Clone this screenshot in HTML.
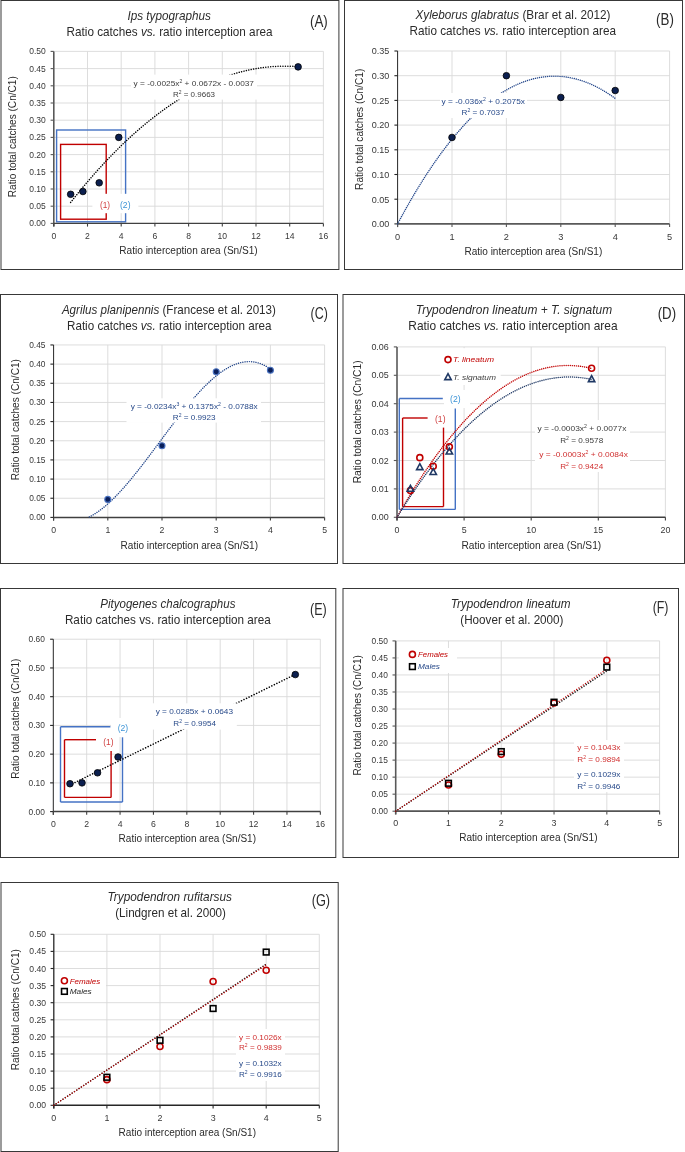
<!DOCTYPE html>
<html><head><meta charset="utf-8"><title>Ratio catches vs ratio interception area</title>
<style>
html,body{margin:0;padding:0;background:#fff;}
body{width:685px;height:1152px;overflow:hidden;}
svg{display:block;font-family:"Liberation Sans", sans-serif;will-change:transform;}
</style></head>
<body>
<svg width="685" height="1152" viewBox="0 0 685 1152">
<rect x="0" y="0" width="685" height="1152" fill="#fff"/>
<rect x="1.00" y="0.50" width="337.90" height="269.00" fill="none" stroke="#383838" stroke-width="1.0"/>
<text x="127.40" y="19.86" font-size="11.9" fill="#2b2b2b" textLength="83.50" lengthAdjust="spacingAndGlyphs"><tspan font-style="italic">Ips typographus</tspan></text>
<text x="66.60" y="35.66" font-size="11.9" fill="#2b2b2b" textLength="206.00" lengthAdjust="spacingAndGlyphs"><tspan>Ratio catches </tspan><tspan font-style="italic">vs.</tspan><tspan> ratio interception area</tspan></text>
<text x="310.00" y="26.73" font-size="15.6" fill="#2b2b2b" textLength="17.80" lengthAdjust="spacingAndGlyphs"><tspan>(A)</tspan></text>
<line x1="87.50" y1="223.40" x2="87.50" y2="51.40" stroke="#d9d9d9" stroke-width="0.9"/>
<line x1="121.20" y1="223.40" x2="121.20" y2="51.40" stroke="#d9d9d9" stroke-width="0.9"/>
<line x1="154.90" y1="223.40" x2="154.90" y2="51.40" stroke="#d9d9d9" stroke-width="0.9"/>
<line x1="188.60" y1="223.40" x2="188.60" y2="51.40" stroke="#d9d9d9" stroke-width="0.9"/>
<line x1="222.30" y1="223.40" x2="222.30" y2="51.40" stroke="#d9d9d9" stroke-width="0.9"/>
<line x1="256.00" y1="223.40" x2="256.00" y2="51.40" stroke="#d9d9d9" stroke-width="0.9"/>
<line x1="289.70" y1="223.40" x2="289.70" y2="51.40" stroke="#d9d9d9" stroke-width="0.9"/>
<line x1="323.40" y1="223.40" x2="323.40" y2="51.40" stroke="#d9d9d9" stroke-width="0.9"/>
<line x1="53.80" y1="206.20" x2="323.40" y2="206.20" stroke="#d9d9d9" stroke-width="0.9"/>
<line x1="53.80" y1="189.00" x2="323.40" y2="189.00" stroke="#d9d9d9" stroke-width="0.9"/>
<line x1="53.80" y1="171.80" x2="323.40" y2="171.80" stroke="#d9d9d9" stroke-width="0.9"/>
<line x1="53.80" y1="154.60" x2="323.40" y2="154.60" stroke="#d9d9d9" stroke-width="0.9"/>
<line x1="53.80" y1="137.40" x2="323.40" y2="137.40" stroke="#d9d9d9" stroke-width="0.9"/>
<line x1="53.80" y1="120.20" x2="323.40" y2="120.20" stroke="#d9d9d9" stroke-width="0.9"/>
<line x1="53.80" y1="103.00" x2="323.40" y2="103.00" stroke="#d9d9d9" stroke-width="0.9"/>
<line x1="53.80" y1="85.80" x2="323.40" y2="85.80" stroke="#d9d9d9" stroke-width="0.9"/>
<line x1="53.80" y1="68.60" x2="323.40" y2="68.60" stroke="#d9d9d9" stroke-width="0.9"/>
<line x1="53.80" y1="51.40" x2="323.40" y2="51.40" stroke="#d9d9d9" stroke-width="0.9"/>
<rect x="56.60" y="130.00" width="69.00" height="91.80" fill="none" stroke="#4472c4" stroke-width="1.4"/>
<rect x="60.60" y="144.40" width="45.60" height="74.80" fill="none" stroke="#c00000" stroke-width="1.4"/>
<rect x="92.40" y="193.80" width="46.00" height="19.40" fill="#fff" stroke="none" stroke-width="1"/>
<text x="99.90" y="207.75" font-size="8.8" fill="#d04040" textLength="10.10" lengthAdjust="spacingAndGlyphs"><tspan>(1)</tspan></text>
<text x="120.00" y="207.75" font-size="8.8" fill="#3d94d6" textLength="10.50" lengthAdjust="spacingAndGlyphs"><tspan>(2)</tspan></text>
<line x1="53.80" y1="226.60" x2="53.80" y2="51.40" stroke="#595959" stroke-width="1.6"/>
<line x1="50.60" y1="223.40" x2="53.80" y2="223.40" stroke="#595959" stroke-width="1.1"/>
<line x1="50.60" y1="206.20" x2="53.80" y2="206.20" stroke="#595959" stroke-width="1.1"/>
<line x1="50.60" y1="189.00" x2="53.80" y2="189.00" stroke="#595959" stroke-width="1.1"/>
<line x1="50.60" y1="171.80" x2="53.80" y2="171.80" stroke="#595959" stroke-width="1.1"/>
<line x1="50.60" y1="154.60" x2="53.80" y2="154.60" stroke="#595959" stroke-width="1.1"/>
<line x1="50.60" y1="137.40" x2="53.80" y2="137.40" stroke="#595959" stroke-width="1.1"/>
<line x1="50.60" y1="120.20" x2="53.80" y2="120.20" stroke="#595959" stroke-width="1.1"/>
<line x1="50.60" y1="103.00" x2="53.80" y2="103.00" stroke="#595959" stroke-width="1.1"/>
<line x1="50.60" y1="85.80" x2="53.80" y2="85.80" stroke="#595959" stroke-width="1.1"/>
<line x1="50.60" y1="68.60" x2="53.80" y2="68.60" stroke="#595959" stroke-width="1.1"/>
<line x1="50.60" y1="51.40" x2="53.80" y2="51.40" stroke="#595959" stroke-width="1.1"/>
<line x1="53.80" y1="223.40" x2="323.40" y2="223.40" stroke="#404040" stroke-width="1.4"/>
<line x1="53.80" y1="223.40" x2="53.80" y2="226.60" stroke="#404040" stroke-width="1.1"/>
<line x1="87.50" y1="223.40" x2="87.50" y2="226.60" stroke="#404040" stroke-width="1.1"/>
<line x1="121.20" y1="223.40" x2="121.20" y2="226.60" stroke="#404040" stroke-width="1.1"/>
<line x1="154.90" y1="223.40" x2="154.90" y2="226.60" stroke="#404040" stroke-width="1.1"/>
<line x1="188.60" y1="223.40" x2="188.60" y2="226.60" stroke="#404040" stroke-width="1.1"/>
<line x1="222.30" y1="223.40" x2="222.30" y2="226.60" stroke="#404040" stroke-width="1.1"/>
<line x1="256.00" y1="223.40" x2="256.00" y2="226.60" stroke="#404040" stroke-width="1.1"/>
<line x1="289.70" y1="223.40" x2="289.70" y2="226.60" stroke="#404040" stroke-width="1.1"/>
<line x1="323.40" y1="223.40" x2="323.40" y2="226.60" stroke="#404040" stroke-width="1.1"/>
<text x="45.80" y="226.44" font-size="8.5" fill="#383838" text-anchor="end">0.00</text>
<text x="45.80" y="209.24" font-size="8.5" fill="#383838" text-anchor="end">0.05</text>
<text x="45.80" y="192.04" font-size="8.5" fill="#383838" text-anchor="end">0.10</text>
<text x="45.80" y="174.84" font-size="8.5" fill="#383838" text-anchor="end">0.15</text>
<text x="45.80" y="157.64" font-size="8.5" fill="#383838" text-anchor="end">0.20</text>
<text x="45.80" y="140.44" font-size="8.5" fill="#383838" text-anchor="end">0.25</text>
<text x="45.80" y="123.24" font-size="8.5" fill="#383838" text-anchor="end">0.30</text>
<text x="45.80" y="106.04" font-size="8.5" fill="#383838" text-anchor="end">0.35</text>
<text x="45.80" y="88.84" font-size="8.5" fill="#383838" text-anchor="end">0.40</text>
<text x="45.80" y="71.64" font-size="8.5" fill="#383838" text-anchor="end">0.45</text>
<text x="45.80" y="54.44" font-size="8.5" fill="#383838" text-anchor="end">0.50</text>
<text x="53.80" y="239.38" font-size="8.6" fill="#383838" text-anchor="middle">0</text>
<text x="87.50" y="239.38" font-size="8.6" fill="#383838" text-anchor="middle">2</text>
<text x="121.20" y="239.38" font-size="8.6" fill="#383838" text-anchor="middle">4</text>
<text x="154.90" y="239.38" font-size="8.6" fill="#383838" text-anchor="middle">6</text>
<text x="188.60" y="239.38" font-size="8.6" fill="#383838" text-anchor="middle">8</text>
<text x="222.30" y="239.38" font-size="8.6" fill="#383838" text-anchor="middle">10</text>
<text x="256.00" y="239.38" font-size="8.6" fill="#383838" text-anchor="middle">12</text>
<text x="289.70" y="239.38" font-size="8.6" fill="#383838" text-anchor="middle">14</text>
<text x="323.40" y="239.38" font-size="8.6" fill="#383838" text-anchor="middle">16</text>
<text x="119.30" y="254.48" font-size="10.0" fill="#2b2b2b" textLength="138.40" lengthAdjust="spacingAndGlyphs"><tspan>Ratio interception area (Sn/S1)</tspan></text>
<text transform="translate(16.40,197.20) rotate(-90)" x="0" y="0" font-size="10.0" fill="#2b2b2b" textLength="121.00" lengthAdjust="spacingAndGlyphs">Ratio total catches (Cn/C1)</text>
<polyline points="70.65,202.40 71.79,200.96 72.92,199.52 74.06,198.09 75.20,196.67 76.34,195.26 77.47,193.86 78.61,192.46 79.75,191.07 80.89,189.69 82.02,188.32 83.16,186.95 84.30,185.59 85.44,184.24 86.57,182.90 87.71,181.56 88.85,180.24 89.99,178.92 91.12,177.60 92.26,176.30 93.40,175.00 94.53,173.71 95.67,172.43 96.81,171.16 97.95,169.89 99.08,168.63 100.22,167.38 101.36,166.14 102.50,164.90 103.63,163.68 104.77,162.46 105.91,161.24 107.05,160.04 108.18,158.84 109.32,157.65 110.46,156.47 111.60,155.30 112.73,154.13 113.87,152.97 115.01,151.82 116.15,150.68 117.28,149.54 118.42,148.42 119.56,147.29 120.69,146.18 121.83,145.08 122.97,143.98 124.11,142.89 125.24,141.81 126.38,140.73 127.52,139.67 128.66,138.61 129.79,137.56 130.93,136.52 132.07,135.48 133.21,134.45 134.34,133.43 135.48,132.42 136.62,131.41 137.76,130.42 138.89,129.43 140.03,128.44 141.17,127.47 142.30,126.50 143.44,125.54 144.58,124.59 145.72,123.65 146.85,122.71 147.99,121.79 149.13,120.87 150.27,119.95 151.40,119.05 152.54,118.15 153.68,117.26 154.82,116.38 155.95,115.50 157.09,114.64 158.23,113.78 159.37,112.93 160.50,112.08 161.64,111.25 162.78,110.42 163.91,109.60 165.05,108.78 166.19,107.98 167.33,107.18 168.46,106.39 169.60,105.61 170.74,104.83 171.88,104.07 173.01,103.31 174.15,102.56 175.29,101.81 176.43,101.08 177.56,100.35 178.70,99.63 179.84,98.91 180.98,98.21 182.11,97.51 183.25,96.82 184.39,96.14 185.52,95.46 186.66,94.80 187.80,94.14 188.94,93.49 190.07,92.84 191.21,92.20 192.35,91.58 193.49,90.96 194.62,90.34 195.76,89.74 196.90,89.14 198.04,88.55 199.17,87.97 200.31,87.39 201.45,86.82 202.59,86.26 203.72,85.71 204.86,85.17 206.00,84.63 207.13,84.10 208.27,83.58 209.41,83.07 210.55,82.56 211.68,82.06 212.82,81.57 213.96,81.09 215.10,80.62 216.23,80.15 217.37,79.69 218.51,79.24 219.65,78.79 220.78,78.36 221.92,77.93 223.06,77.50 224.20,77.09 225.33,76.69 226.47,76.29 227.61,75.90 228.75,75.51 229.88,75.14 231.02,74.77 232.16,74.41 233.29,74.06 234.43,73.71 235.57,73.38 236.71,73.05 237.84,72.73 238.98,72.41 240.12,72.11 241.26,71.81 242.39,71.52 243.53,71.23 244.67,70.96 245.81,70.69 246.94,70.43 248.08,70.18 249.22,69.93 250.36,69.70 251.49,69.47 252.63,69.25 253.77,69.03 254.90,68.83 256.04,68.63 257.18,68.44 258.32,68.25 259.45,68.08 260.59,67.91 261.73,67.75 262.87,67.60 264.00,67.45 265.14,67.31 266.28,67.19 267.42,67.06 268.55,66.95 269.69,66.84 270.83,66.74 271.97,66.65 273.10,66.57 274.24,66.49 275.38,66.43 276.51,66.37 277.65,66.31 278.79,66.27 279.93,66.23 281.06,66.20 282.20,66.18 283.34,66.16 284.48,66.16 285.61,66.16 286.75,66.17 287.89,66.18 289.03,66.21 290.16,66.24 291.30,66.28 292.44,66.33 293.58,66.38 294.71,66.44 295.85,66.51 296.99,66.59 298.12,66.68" fill="none" stroke="#000" stroke-width="1.5" stroke-dasharray="0.01 2.45" stroke-linecap="round"/>
<rect x="131.00" y="74.60" width="126.00" height="25.00" fill="#fff" stroke="none" stroke-width="1"/>
<text x="133.60" y="86.19" font-size="7.8" fill="#404040" textLength="120.40" lengthAdjust="spacingAndGlyphs"><tspan>y = -0.0025x</tspan><tspan font-size="4.84" dy="-2.96">2</tspan><tspan dy="2.96"> + 0.0672x - 0.0037</tspan></text>
<text x="173.00" y="96.79" font-size="7.8" fill="#404040" textLength="42.00" lengthAdjust="spacingAndGlyphs"><tspan>R</tspan><tspan font-size="4.84" dy="-2.96">2</tspan><tspan dy="2.96"> = 0.9663</tspan></text>
<circle cx="70.65" cy="194.30" r="3.3" fill="#0b1f4f" stroke="#000" stroke-width="0.8"/>
<circle cx="82.90" cy="191.51" r="3.3" fill="#0b1f4f" stroke="#000" stroke-width="0.8"/>
<circle cx="99.19" cy="182.81" r="3.3" fill="#0b1f4f" stroke="#000" stroke-width="0.8"/>
<circle cx="118.79" cy="137.40" r="3.3" fill="#0b1f4f" stroke="#000" stroke-width="0.8"/>
<circle cx="298.12" cy="66.88" r="3.3" fill="#0b1f4f" stroke="#000" stroke-width="0.8"/>
<rect x="344.50" y="0.50" width="338.00" height="269.00" fill="none" stroke="#383838" stroke-width="1.0"/>
<text x="415.50" y="19.46" font-size="11.9" fill="#2b2b2b" textLength="195.00" lengthAdjust="spacingAndGlyphs"><tspan font-style="italic">Xyleborus glabratus</tspan><tspan> (Brar et al. 2012)</tspan></text>
<text x="409.50" y="35.06" font-size="11.9" fill="#2b2b2b" textLength="206.50" lengthAdjust="spacingAndGlyphs"><tspan>Ratio catches </tspan><tspan font-style="italic">vs.</tspan><tspan> ratio interception area</tspan></text>
<text x="656.10" y="25.08" font-size="15.6" fill="#2b2b2b" textLength="17.80" lengthAdjust="spacingAndGlyphs"><tspan>(B)</tspan></text>
<line x1="452.00" y1="223.90" x2="452.00" y2="51.00" stroke="#d9d9d9" stroke-width="0.9"/>
<line x1="506.40" y1="223.90" x2="506.40" y2="51.00" stroke="#d9d9d9" stroke-width="0.9"/>
<line x1="560.80" y1="223.90" x2="560.80" y2="51.00" stroke="#d9d9d9" stroke-width="0.9"/>
<line x1="615.20" y1="223.90" x2="615.20" y2="51.00" stroke="#d9d9d9" stroke-width="0.9"/>
<line x1="669.60" y1="223.90" x2="669.60" y2="51.00" stroke="#d9d9d9" stroke-width="0.9"/>
<line x1="397.60" y1="199.20" x2="669.60" y2="199.20" stroke="#d9d9d9" stroke-width="0.9"/>
<line x1="397.60" y1="174.50" x2="669.60" y2="174.50" stroke="#d9d9d9" stroke-width="0.9"/>
<line x1="397.60" y1="149.80" x2="669.60" y2="149.80" stroke="#d9d9d9" stroke-width="0.9"/>
<line x1="397.60" y1="125.10" x2="669.60" y2="125.10" stroke="#d9d9d9" stroke-width="0.9"/>
<line x1="397.60" y1="100.40" x2="669.60" y2="100.40" stroke="#d9d9d9" stroke-width="0.9"/>
<line x1="397.60" y1="75.70" x2="669.60" y2="75.70" stroke="#d9d9d9" stroke-width="0.9"/>
<line x1="397.60" y1="51.00" x2="669.60" y2="51.00" stroke="#d9d9d9" stroke-width="0.9"/>
<line x1="397.60" y1="227.10" x2="397.60" y2="51.00" stroke="#262626" stroke-width="1.0"/>
<line x1="394.40" y1="223.90" x2="397.60" y2="223.90" stroke="#262626" stroke-width="1.1"/>
<line x1="394.40" y1="199.20" x2="397.60" y2="199.20" stroke="#262626" stroke-width="1.1"/>
<line x1="394.40" y1="174.50" x2="397.60" y2="174.50" stroke="#262626" stroke-width="1.1"/>
<line x1="394.40" y1="149.80" x2="397.60" y2="149.80" stroke="#262626" stroke-width="1.1"/>
<line x1="394.40" y1="125.10" x2="397.60" y2="125.10" stroke="#262626" stroke-width="1.1"/>
<line x1="394.40" y1="100.40" x2="397.60" y2="100.40" stroke="#262626" stroke-width="1.1"/>
<line x1="394.40" y1="75.70" x2="397.60" y2="75.70" stroke="#262626" stroke-width="1.1"/>
<line x1="394.40" y1="51.00" x2="397.60" y2="51.00" stroke="#262626" stroke-width="1.1"/>
<line x1="397.60" y1="223.90" x2="669.60" y2="223.90" stroke="#595959" stroke-width="1.8"/>
<line x1="397.60" y1="223.90" x2="397.60" y2="227.10" stroke="#595959" stroke-width="1.1"/>
<line x1="452.00" y1="223.90" x2="452.00" y2="227.10" stroke="#595959" stroke-width="1.1"/>
<line x1="506.40" y1="223.90" x2="506.40" y2="227.10" stroke="#595959" stroke-width="1.1"/>
<line x1="560.80" y1="223.90" x2="560.80" y2="227.10" stroke="#595959" stroke-width="1.1"/>
<line x1="615.20" y1="223.90" x2="615.20" y2="227.10" stroke="#595959" stroke-width="1.1"/>
<line x1="669.60" y1="223.90" x2="669.60" y2="227.10" stroke="#595959" stroke-width="1.1"/>
<text x="371.70" y="227.25" font-size="9.35" fill="#383838" textLength="17.6" lengthAdjust="spacingAndGlyphs">0.00</text>
<text x="371.70" y="202.55" font-size="9.35" fill="#383838" textLength="17.6" lengthAdjust="spacingAndGlyphs">0.05</text>
<text x="371.70" y="177.85" font-size="9.35" fill="#383838" textLength="17.6" lengthAdjust="spacingAndGlyphs">0.10</text>
<text x="371.70" y="153.15" font-size="9.35" fill="#383838" textLength="17.6" lengthAdjust="spacingAndGlyphs">0.15</text>
<text x="371.70" y="128.45" font-size="9.35" fill="#383838" textLength="17.6" lengthAdjust="spacingAndGlyphs">0.20</text>
<text x="371.70" y="103.75" font-size="9.35" fill="#383838" textLength="17.6" lengthAdjust="spacingAndGlyphs">0.25</text>
<text x="371.70" y="79.05" font-size="9.35" fill="#383838" textLength="17.6" lengthAdjust="spacingAndGlyphs">0.30</text>
<text x="371.70" y="54.35" font-size="9.35" fill="#383838" textLength="17.6" lengthAdjust="spacingAndGlyphs">0.35</text>
<text x="397.60" y="239.89" font-size="9.2" fill="#383838" text-anchor="middle">0</text>
<text x="452.00" y="239.89" font-size="9.2" fill="#383838" text-anchor="middle">1</text>
<text x="506.40" y="239.89" font-size="9.2" fill="#383838" text-anchor="middle">2</text>
<text x="560.80" y="239.89" font-size="9.2" fill="#383838" text-anchor="middle">3</text>
<text x="615.20" y="239.89" font-size="9.2" fill="#383838" text-anchor="middle">4</text>
<text x="669.60" y="239.89" font-size="9.2" fill="#383838" text-anchor="middle">5</text>
<text x="464.40" y="255.18" font-size="10.0" fill="#2b2b2b" textLength="137.90" lengthAdjust="spacingAndGlyphs"><tspan>Ratio interception area (Sn/S1)</tspan></text>
<text transform="translate(362.90,189.90) rotate(-90)" x="0" y="0" font-size="10.0" fill="#2b2b2b" textLength="121.20" lengthAdjust="spacingAndGlyphs">Ratio total catches (Cn/C1)</text>
<polyline points="397.60,223.90 398.69,221.86 399.78,219.83 400.86,217.81 401.95,215.81 403.04,213.83 404.13,211.86 405.22,209.90 406.30,207.95 407.39,206.03 408.48,204.11 409.57,202.21 410.66,200.32 411.74,198.45 412.83,196.59 413.92,194.75 415.01,192.92 416.10,191.10 417.18,189.30 418.27,187.52 419.36,185.74 420.45,183.98 421.54,182.24 422.62,180.51 423.71,178.80 424.80,177.09 425.89,175.41 426.98,173.73 428.06,172.07 429.15,170.43 430.24,168.80 431.33,167.18 432.42,165.58 433.50,163.99 434.59,162.42 435.68,160.86 436.77,159.32 437.86,157.78 438.94,156.27 440.03,154.77 441.12,153.28 442.21,151.80 443.30,150.34 444.38,148.90 445.47,147.47 446.56,146.05 447.65,144.65 448.74,143.26 449.82,141.88 450.91,140.52 452.00,139.18 453.09,137.85 454.18,136.53 455.26,135.23 456.35,133.94 457.44,132.66 458.53,131.40 459.62,130.16 460.70,128.92 461.79,127.71 462.88,126.50 463.97,125.31 465.06,124.14 466.14,122.98 467.23,121.83 468.32,120.70 469.41,119.58 470.50,118.48 471.58,117.39 472.67,116.31 473.76,115.25 474.85,114.20 475.94,113.17 477.02,112.15 478.11,111.15 479.20,110.16 480.29,109.18 481.38,108.22 482.46,107.27 483.55,106.34 484.64,105.42 485.73,104.51 486.82,103.62 487.90,102.75 488.99,101.89 490.08,101.04 491.17,100.20 492.26,99.38 493.34,98.58 494.43,97.79 495.52,97.01 496.61,96.25 497.70,95.50 498.78,94.77 499.87,94.05 500.96,93.34 502.05,92.65 503.14,91.97 504.22,91.31 505.31,90.66 506.40,90.03 507.49,89.41 508.58,88.80 509.66,88.21 510.75,87.63 511.84,87.07 512.93,86.52 514.02,85.98 515.10,85.46 516.19,84.96 517.28,84.46 518.37,83.99 519.46,83.52 520.54,83.07 521.63,82.64 522.72,82.22 523.81,81.81 524.90,81.42 525.98,81.04 527.07,80.67 528.16,80.32 529.25,79.99 530.34,79.67 531.42,79.36 532.51,79.07 533.60,78.79 534.69,78.52 535.78,78.27 536.86,78.04 537.95,77.81 539.04,77.61 540.13,77.41 541.22,77.23 542.30,77.07 543.39,76.92 544.48,76.78 545.57,76.66 546.66,76.55 547.74,76.46 548.83,76.38 549.92,76.31 551.01,76.26 552.10,76.22 553.18,76.20 554.27,76.19 555.36,76.20 556.45,76.22 557.54,76.25 558.62,76.30 559.71,76.36 560.80,76.44 561.89,76.53 562.98,76.64 564.06,76.76 565.15,76.89 566.24,77.04 567.33,77.20 568.42,77.38 569.50,77.57 570.59,77.77 571.68,77.99 572.77,78.23 573.86,78.47 574.94,78.73 576.03,79.01 577.12,79.30 578.21,79.61 579.30,79.92 580.38,80.26 581.47,80.60 582.56,80.97 583.65,81.34 584.74,81.73 585.82,82.14 586.91,82.55 588.00,82.99 589.09,83.43 590.18,83.89 591.26,84.37 592.35,84.86 593.44,85.36 594.53,85.88 595.62,86.41 596.70,86.96 597.79,87.52 598.88,88.09 599.97,88.68 601.06,89.29 602.14,89.90 603.23,90.54 604.32,91.18 605.41,91.84 606.50,92.52 607.58,93.21 608.67,93.91 609.76,94.63 610.85,95.36 611.94,96.10 613.02,96.86 614.11,97.64 615.20,98.42" fill="none" stroke="#23468a" stroke-width="1.45" stroke-dasharray="0.01 2.05" stroke-linecap="round"/>
<rect x="440.00" y="93.00" width="87.00" height="25.00" fill="#fff" stroke="none" stroke-width="1"/>
<text x="441.60" y="103.79" font-size="7.8" fill="#284a8a" textLength="83.40" lengthAdjust="spacingAndGlyphs"><tspan>y = -0.036x</tspan><tspan font-size="4.84" dy="-2.96">2</tspan><tspan dy="2.96"> + 0.2075x</tspan></text>
<text x="461.60" y="114.79" font-size="7.8" fill="#284a8a" textLength="43.00" lengthAdjust="spacingAndGlyphs"><tspan>R</tspan><tspan font-size="4.84" dy="-2.96">2</tspan><tspan dy="2.96"> = 0.7037</tspan></text>
<circle cx="452.00" cy="137.45" r="3.3" fill="#0b1f4f" stroke="#000" stroke-width="0.8"/>
<circle cx="506.40" cy="75.70" r="3.3" fill="#0b1f4f" stroke="#000" stroke-width="0.8"/>
<circle cx="560.80" cy="97.44" r="3.3" fill="#0b1f4f" stroke="#000" stroke-width="0.8"/>
<circle cx="615.20" cy="90.52" r="3.3" fill="#0b1f4f" stroke="#000" stroke-width="0.8"/>
<rect x="0.50" y="294.50" width="337.00" height="269.00" fill="none" stroke="#383838" stroke-width="1.0"/>
<text x="61.90" y="313.76" font-size="11.9" fill="#2b2b2b" textLength="214.00" lengthAdjust="spacingAndGlyphs"><tspan font-style="italic">Agrilus planipennis</tspan><tspan> (Francese et al. 2013)</tspan></text>
<text x="67.00" y="330.46" font-size="11.9" fill="#2b2b2b" textLength="204.60" lengthAdjust="spacingAndGlyphs"><tspan>Ratio catches </tspan><tspan font-style="italic">vs.</tspan><tspan> ratio interception area</tspan></text>
<text x="310.50" y="319.48" font-size="15.6" fill="#2b2b2b" textLength="17.30" lengthAdjust="spacingAndGlyphs"><tspan>(C)</tspan></text>
<line x1="107.80" y1="517.40" x2="107.80" y2="344.96" stroke="#d9d9d9" stroke-width="0.9"/>
<line x1="162.00" y1="517.40" x2="162.00" y2="344.96" stroke="#d9d9d9" stroke-width="0.9"/>
<line x1="216.20" y1="517.40" x2="216.20" y2="344.96" stroke="#d9d9d9" stroke-width="0.9"/>
<line x1="270.40" y1="517.40" x2="270.40" y2="344.96" stroke="#d9d9d9" stroke-width="0.9"/>
<line x1="324.60" y1="517.40" x2="324.60" y2="344.96" stroke="#d9d9d9" stroke-width="0.9"/>
<line x1="53.60" y1="498.24" x2="324.60" y2="498.24" stroke="#d9d9d9" stroke-width="0.9"/>
<line x1="53.60" y1="479.08" x2="324.60" y2="479.08" stroke="#d9d9d9" stroke-width="0.9"/>
<line x1="53.60" y1="459.92" x2="324.60" y2="459.92" stroke="#d9d9d9" stroke-width="0.9"/>
<line x1="53.60" y1="440.76" x2="324.60" y2="440.76" stroke="#d9d9d9" stroke-width="0.9"/>
<line x1="53.60" y1="421.60" x2="324.60" y2="421.60" stroke="#d9d9d9" stroke-width="0.9"/>
<line x1="53.60" y1="402.44" x2="324.60" y2="402.44" stroke="#d9d9d9" stroke-width="0.9"/>
<line x1="53.60" y1="383.28" x2="324.60" y2="383.28" stroke="#d9d9d9" stroke-width="0.9"/>
<line x1="53.60" y1="364.12" x2="324.60" y2="364.12" stroke="#d9d9d9" stroke-width="0.9"/>
<line x1="53.60" y1="344.96" x2="324.60" y2="344.96" stroke="#d9d9d9" stroke-width="0.9"/>
<line x1="53.60" y1="520.60" x2="53.60" y2="344.96" stroke="#262626" stroke-width="1.0"/>
<line x1="50.40" y1="517.40" x2="53.60" y2="517.40" stroke="#262626" stroke-width="1.1"/>
<line x1="50.40" y1="498.24" x2="53.60" y2="498.24" stroke="#262626" stroke-width="1.1"/>
<line x1="50.40" y1="479.08" x2="53.60" y2="479.08" stroke="#262626" stroke-width="1.1"/>
<line x1="50.40" y1="459.92" x2="53.60" y2="459.92" stroke="#262626" stroke-width="1.1"/>
<line x1="50.40" y1="440.76" x2="53.60" y2="440.76" stroke="#262626" stroke-width="1.1"/>
<line x1="50.40" y1="421.60" x2="53.60" y2="421.60" stroke="#262626" stroke-width="1.1"/>
<line x1="50.40" y1="402.44" x2="53.60" y2="402.44" stroke="#262626" stroke-width="1.1"/>
<line x1="50.40" y1="383.28" x2="53.60" y2="383.28" stroke="#262626" stroke-width="1.1"/>
<line x1="50.40" y1="364.12" x2="53.60" y2="364.12" stroke="#262626" stroke-width="1.1"/>
<line x1="50.40" y1="344.96" x2="53.60" y2="344.96" stroke="#262626" stroke-width="1.1"/>
<line x1="53.60" y1="517.40" x2="324.60" y2="517.40" stroke="#404040" stroke-width="1.5"/>
<line x1="53.60" y1="517.40" x2="53.60" y2="520.60" stroke="#404040" stroke-width="1.1"/>
<line x1="107.80" y1="517.40" x2="107.80" y2="520.60" stroke="#404040" stroke-width="1.1"/>
<line x1="162.00" y1="517.40" x2="162.00" y2="520.60" stroke="#404040" stroke-width="1.1"/>
<line x1="216.20" y1="517.40" x2="216.20" y2="520.60" stroke="#404040" stroke-width="1.1"/>
<line x1="270.40" y1="517.40" x2="270.40" y2="520.60" stroke="#404040" stroke-width="1.1"/>
<line x1="324.60" y1="517.40" x2="324.60" y2="520.60" stroke="#404040" stroke-width="1.1"/>
<text x="45.50" y="520.41" font-size="8.4" fill="#383838" text-anchor="end">0.00</text>
<text x="45.50" y="501.25" font-size="8.4" fill="#383838" text-anchor="end">0.05</text>
<text x="45.50" y="482.09" font-size="8.4" fill="#383838" text-anchor="end">0.10</text>
<text x="45.50" y="462.93" font-size="8.4" fill="#383838" text-anchor="end">0.15</text>
<text x="45.50" y="443.77" font-size="8.4" fill="#383838" text-anchor="end">0.20</text>
<text x="45.50" y="424.61" font-size="8.4" fill="#383838" text-anchor="end">0.25</text>
<text x="45.50" y="405.45" font-size="8.4" fill="#383838" text-anchor="end">0.30</text>
<text x="45.50" y="386.29" font-size="8.4" fill="#383838" text-anchor="end">0.35</text>
<text x="45.50" y="367.13" font-size="8.4" fill="#383838" text-anchor="end">0.40</text>
<text x="45.50" y="347.97" font-size="8.4" fill="#383838" text-anchor="end">0.45</text>
<text x="53.60" y="533.11" font-size="8.7" fill="#383838" text-anchor="middle">0</text>
<text x="107.80" y="533.11" font-size="8.7" fill="#383838" text-anchor="middle">1</text>
<text x="162.00" y="533.11" font-size="8.7" fill="#383838" text-anchor="middle">2</text>
<text x="216.20" y="533.11" font-size="8.7" fill="#383838" text-anchor="middle">3</text>
<text x="270.40" y="533.11" font-size="8.7" fill="#383838" text-anchor="middle">4</text>
<text x="324.60" y="533.11" font-size="8.7" fill="#383838" text-anchor="middle">5</text>
<text x="120.60" y="549.18" font-size="10.0" fill="#2b2b2b" textLength="137.40" lengthAdjust="spacingAndGlyphs"><tspan>Ratio interception area (Sn/S1)</tspan></text>
<text transform="translate(18.90,480.20) rotate(-90)" x="0" y="0" font-size="10.0" fill="#2b2b2b" textLength="121.10" lengthAdjust="spacingAndGlyphs">Ratio total catches (Cn/C1)</text>
<polyline points="89.37,516.96 90.28,516.48 91.18,515.99 92.09,515.48 92.99,514.96 93.90,514.41 94.80,513.84 95.71,513.26 96.61,512.66 97.52,512.04 98.42,511.41 99.33,510.76 100.23,510.09 101.14,509.40 102.04,508.70 102.95,507.98 103.85,507.25 104.76,506.50 105.66,505.73 106.57,504.96 107.47,504.16 108.38,503.35 109.29,502.53 110.19,501.69 111.10,500.84 112.00,499.98 112.91,499.10 113.81,498.21 114.72,497.31 115.62,496.40 116.53,495.47 117.43,494.53 118.34,493.58 119.24,492.62 120.15,491.64 121.05,490.66 121.96,489.66 122.86,488.66 123.77,487.64 124.67,486.61 125.58,485.58 126.48,484.53 127.39,483.48 128.29,482.42 129.20,481.34 130.10,480.26 131.01,479.17 131.91,478.08 132.82,476.97 133.72,475.86 134.63,474.74 135.53,473.62 136.44,472.48 137.34,471.34 138.25,470.20 139.15,469.05 140.06,467.89 140.96,466.73 141.87,465.56 142.78,464.39 143.68,463.21 144.59,462.03 145.49,460.84 146.40,459.65 147.30,458.46 148.21,457.26 149.11,456.06 150.02,454.86 150.92,453.65 151.83,452.44 152.73,451.23 153.64,450.02 154.54,448.80 155.45,447.59 156.35,446.37 157.26,445.15 158.16,443.94 159.07,442.72 159.97,441.50 160.88,440.28 161.78,439.06 162.69,437.84 163.59,436.62 164.50,435.41 165.40,434.19 166.31,432.98 167.21,431.77 168.12,430.56 169.02,429.35 169.93,428.14 170.83,426.94 171.74,425.74 172.64,424.55 173.55,423.36 174.46,422.17 175.36,420.98 176.27,419.80 177.17,418.63 178.08,417.46 178.98,416.29 179.89,415.13 180.79,413.98 181.70,412.83 182.60,411.69 183.51,410.55 184.41,409.42 185.32,408.30 186.22,407.18 187.13,406.07 188.03,404.97 188.94,403.88 189.84,402.80 190.75,401.72 191.65,400.65 192.56,399.59 193.46,398.54 194.37,397.50 195.27,396.47 196.18,395.45 197.08,394.44 197.99,393.44 198.89,392.45 199.80,391.47 200.70,390.50 201.61,389.54 202.51,388.59 203.42,387.66 204.32,386.74 205.23,385.83 206.14,384.93 207.04,384.05 207.95,383.18 208.85,382.32 209.76,381.48 210.66,380.65 211.57,379.83 212.47,379.03 213.38,378.24 214.28,377.47 215.19,376.71 216.09,375.97 217.00,375.25 217.90,374.54 218.81,373.84 219.71,373.16 220.62,372.50 221.52,371.86 222.43,371.23 223.33,370.62 224.24,370.03 225.14,369.45 226.05,368.90 226.95,368.36 227.86,367.84 228.76,367.34 229.67,366.86 230.57,366.40 231.48,365.95 232.38,365.53 233.29,365.13 234.19,364.75 235.10,364.38 236.00,364.04 236.91,363.72 237.81,363.43 238.72,363.15 239.63,362.89 240.53,362.66 241.44,362.45 242.34,362.26 243.25,362.10 244.15,361.96 245.06,361.84 245.96,361.74 246.87,361.67 247.77,361.63 248.68,361.60 249.58,361.61 250.49,361.63 251.39,361.68 252.30,361.76 253.20,361.86 254.11,361.99 255.01,362.15 255.92,362.33 256.82,362.54 257.73,362.77 258.63,363.04 259.54,363.33 260.44,363.64 261.35,363.99 262.25,364.36 263.16,364.76 264.06,365.19 264.97,365.65 265.87,366.14 266.78,366.66 267.68,367.20 268.59,367.78 269.49,368.39 270.40,369.02" fill="none" stroke="#23468a" stroke-width="1.45" stroke-dasharray="0.01 2.2" stroke-linecap="round"/>
<rect x="126.50" y="398.30" width="134.50" height="24.30" fill="#fff" stroke="none" stroke-width="1"/>
<text x="130.70" y="408.59" font-size="7.8" fill="#284a8a" textLength="127.00" lengthAdjust="spacingAndGlyphs"><tspan>y = -0.0234x</tspan><tspan font-size="4.84" dy="-2.96">3</tspan><tspan dy="2.96"> + 0.1375x</tspan><tspan font-size="4.84" dy="-2.96">2</tspan><tspan dy="2.96"> - 0.0788x</tspan></text>
<text x="172.80" y="419.59" font-size="7.8" fill="#284a8a" textLength="42.80" lengthAdjust="spacingAndGlyphs"><tspan>R</tspan><tspan font-size="4.84" dy="-2.96">2</tspan><tspan dy="2.96"> = 0.9923</tspan></text>
<circle cx="107.80" cy="499.39" r="3.0" fill="#0a1f5a" stroke="#4a72c0" stroke-width="1.1"/>
<circle cx="162.00" cy="445.74" r="3.0" fill="#0a1f5a" stroke="#4a72c0" stroke-width="1.1"/>
<circle cx="216.20" cy="371.78" r="3.0" fill="#0a1f5a" stroke="#4a72c0" stroke-width="1.1"/>
<circle cx="270.40" cy="370.25" r="3.0" fill="#0a1f5a" stroke="#4a72c0" stroke-width="1.1"/>
<rect x="343.00" y="294.50" width="341.50" height="269.00" fill="none" stroke="#383838" stroke-width="1.0"/>
<text x="415.80" y="313.86" font-size="11.9" fill="#2b2b2b" textLength="196.30" lengthAdjust="spacingAndGlyphs"><tspan font-style="italic">Trypodendron lineatum + T. signatum</tspan></text>
<text x="408.30" y="329.66" font-size="11.9" fill="#2b2b2b" textLength="209.30" lengthAdjust="spacingAndGlyphs"><tspan>Ratio catches </tspan><tspan font-style="italic">vs.</tspan><tspan> ratio interception area</tspan></text>
<text x="657.70" y="318.78" font-size="15.6" fill="#2b2b2b" textLength="18.40" lengthAdjust="spacingAndGlyphs"><tspan>(D)</tspan></text>
<line x1="464.10" y1="517.30" x2="464.10" y2="346.90" stroke="#d9d9d9" stroke-width="0.9"/>
<line x1="531.20" y1="517.30" x2="531.20" y2="346.90" stroke="#d9d9d9" stroke-width="0.9"/>
<line x1="598.30" y1="517.30" x2="598.30" y2="346.90" stroke="#d9d9d9" stroke-width="0.9"/>
<line x1="665.40" y1="517.30" x2="665.40" y2="346.90" stroke="#d9d9d9" stroke-width="0.9"/>
<line x1="397.00" y1="488.90" x2="665.40" y2="488.90" stroke="#d9d9d9" stroke-width="0.9"/>
<line x1="397.00" y1="460.50" x2="665.40" y2="460.50" stroke="#d9d9d9" stroke-width="0.9"/>
<line x1="397.00" y1="432.10" x2="665.40" y2="432.10" stroke="#d9d9d9" stroke-width="0.9"/>
<line x1="397.00" y1="403.70" x2="665.40" y2="403.70" stroke="#d9d9d9" stroke-width="0.9"/>
<line x1="397.00" y1="375.30" x2="665.40" y2="375.30" stroke="#d9d9d9" stroke-width="0.9"/>
<line x1="397.00" y1="346.90" x2="665.40" y2="346.90" stroke="#d9d9d9" stroke-width="0.9"/>
<rect x="440.40" y="348.20" width="60.30" height="36.80" fill="#fff" stroke="none" stroke-width="1"/>
<line x1="399.30" y1="398.50" x2="442.80" y2="398.50" stroke="#4472c4" stroke-width="1.4"/>
<line x1="399.30" y1="398.50" x2="399.30" y2="509.40" stroke="#4472c4" stroke-width="1.4"/>
<line x1="399.30" y1="509.40" x2="455.30" y2="509.40" stroke="#4472c4" stroke-width="1.4"/>
<line x1="455.30" y1="509.40" x2="455.30" y2="408.50" stroke="#4472c4" stroke-width="1.4"/>
<line x1="402.60" y1="418.00" x2="427.60" y2="418.00" stroke="#c00000" stroke-width="1.4"/>
<line x1="402.60" y1="418.00" x2="402.60" y2="506.60" stroke="#c00000" stroke-width="1.4"/>
<line x1="402.60" y1="506.60" x2="443.50" y2="506.60" stroke="#c00000" stroke-width="1.4"/>
<line x1="443.50" y1="506.60" x2="443.50" y2="427.60" stroke="#c00000" stroke-width="1.4"/>
<rect x="444.00" y="390.00" width="26.00" height="18.00" fill="#fff" stroke="none" stroke-width="1"/>
<text x="450.10" y="402.15" font-size="8.8" fill="#3d94d6" textLength="10.60" lengthAdjust="spacingAndGlyphs"><tspan>(2)</tspan></text>
<text x="435.00" y="421.75" font-size="8.8" fill="#d04040" textLength="10.50" lengthAdjust="spacingAndGlyphs"><tspan>(1)</tspan></text>
<line x1="397.00" y1="520.50" x2="397.00" y2="346.90" stroke="#595959" stroke-width="1.6"/>
<line x1="393.80" y1="517.30" x2="397.00" y2="517.30" stroke="#595959" stroke-width="1.1"/>
<line x1="393.80" y1="488.90" x2="397.00" y2="488.90" stroke="#595959" stroke-width="1.1"/>
<line x1="393.80" y1="460.50" x2="397.00" y2="460.50" stroke="#595959" stroke-width="1.1"/>
<line x1="393.80" y1="432.10" x2="397.00" y2="432.10" stroke="#595959" stroke-width="1.1"/>
<line x1="393.80" y1="403.70" x2="397.00" y2="403.70" stroke="#595959" stroke-width="1.1"/>
<line x1="393.80" y1="375.30" x2="397.00" y2="375.30" stroke="#595959" stroke-width="1.1"/>
<line x1="393.80" y1="346.90" x2="397.00" y2="346.90" stroke="#595959" stroke-width="1.1"/>
<line x1="397.00" y1="517.30" x2="665.40" y2="517.30" stroke="#404040" stroke-width="1.4"/>
<line x1="397.00" y1="517.30" x2="397.00" y2="520.50" stroke="#404040" stroke-width="1.1"/>
<line x1="464.10" y1="517.30" x2="464.10" y2="520.50" stroke="#404040" stroke-width="1.1"/>
<line x1="531.20" y1="517.30" x2="531.20" y2="520.50" stroke="#404040" stroke-width="1.1"/>
<line x1="598.30" y1="517.30" x2="598.30" y2="520.50" stroke="#404040" stroke-width="1.1"/>
<line x1="665.40" y1="517.30" x2="665.40" y2="520.50" stroke="#404040" stroke-width="1.1"/>
<text x="371.40" y="520.49" font-size="8.9" fill="#383838" textLength="17.4" lengthAdjust="spacingAndGlyphs">0.00</text>
<text x="371.40" y="492.09" font-size="8.9" fill="#383838" textLength="17.4" lengthAdjust="spacingAndGlyphs">0.01</text>
<text x="371.40" y="463.69" font-size="8.9" fill="#383838" textLength="17.4" lengthAdjust="spacingAndGlyphs">0.02</text>
<text x="371.40" y="435.29" font-size="8.9" fill="#383838" textLength="17.4" lengthAdjust="spacingAndGlyphs">0.03</text>
<text x="371.40" y="406.89" font-size="8.9" fill="#383838" textLength="17.4" lengthAdjust="spacingAndGlyphs">0.04</text>
<text x="371.40" y="378.49" font-size="8.9" fill="#383838" textLength="17.4" lengthAdjust="spacingAndGlyphs">0.05</text>
<text x="371.40" y="350.09" font-size="8.9" fill="#383838" textLength="17.4" lengthAdjust="spacingAndGlyphs">0.06</text>
<text x="397.00" y="532.69" font-size="8.9" fill="#383838" text-anchor="middle">0</text>
<text x="464.10" y="532.69" font-size="8.9" fill="#383838" text-anchor="middle">5</text>
<text x="531.20" y="532.69" font-size="8.9" fill="#383838" text-anchor="middle">10</text>
<text x="598.30" y="532.69" font-size="8.9" fill="#383838" text-anchor="middle">15</text>
<text x="665.40" y="532.69" font-size="8.9" fill="#383838" text-anchor="middle">20</text>
<text x="461.40" y="548.58" font-size="10.0" fill="#2b2b2b" textLength="139.80" lengthAdjust="spacingAndGlyphs"><tspan>Ratio interception area (Sn/S1)</tspan></text>
<text transform="translate(361.10,483.30) rotate(-90)" x="0" y="0" font-size="10.0" fill="#2b2b2b" textLength="122.85" lengthAdjust="spacingAndGlyphs">Ratio total catches (Cn/C1)</text>
<polyline points="397.00,517.30 397.97,515.58 398.95,513.86 399.92,512.16 400.89,510.46 401.86,508.78 402.84,507.10 403.81,505.43 404.78,503.78 405.76,502.13 406.73,500.50 407.70,498.87 408.68,497.25 409.65,495.65 410.62,494.05 411.59,492.46 412.57,490.89 413.54,489.32 414.51,487.76 415.49,486.22 416.46,484.68 417.43,483.15 418.40,481.63 419.38,480.13 420.35,478.63 421.32,477.14 422.30,475.66 423.27,474.19 424.24,472.73 425.22,471.29 426.19,469.85 427.16,468.42 428.13,467.00 429.11,465.59 430.08,464.19 431.05,462.80 432.03,461.42 433.00,460.05 433.97,458.69 434.95,457.34 435.92,456.00 436.89,454.67 437.86,453.35 438.84,452.04 439.81,450.74 440.78,449.45 441.76,448.16 442.73,446.89 443.70,445.63 444.67,444.38 445.65,443.14 446.62,441.91 447.59,440.68 448.57,439.47 449.54,438.27 450.51,437.08 451.49,435.89 452.46,434.72 453.43,433.56 454.40,432.40 455.38,431.26 456.35,430.13 457.32,429.00 458.30,427.89 459.27,426.79 460.24,425.69 461.21,424.61 462.19,423.53 463.16,422.47 464.13,421.41 465.11,420.37 466.08,419.33 467.05,418.31 468.03,417.29 469.00,416.29 469.97,415.29 470.94,414.31 471.92,413.33 472.89,412.37 473.86,411.41 474.84,410.46 475.81,409.53 476.78,408.60 477.75,407.68 478.73,406.78 479.70,405.88 480.67,404.99 481.65,404.11 482.62,403.25 483.59,402.39 484.57,401.54 485.54,400.70 486.51,399.88 487.48,399.06 488.46,398.25 489.43,397.45 490.40,396.66 491.38,395.88 492.35,395.11 493.32,394.35 494.30,393.61 495.27,392.87 496.24,392.14 497.21,391.42 498.19,390.71 499.16,390.01 500.13,389.32 501.11,388.64 502.08,387.97 503.05,387.31 504.02,386.65 505.00,386.01 505.97,385.38 506.94,384.76 507.92,384.15 508.89,383.55 509.86,382.96 510.84,382.38 511.81,381.80 512.78,381.24 513.75,380.69 514.73,380.15 515.70,379.61 516.67,379.09 517.65,378.58 518.62,378.08 519.59,377.58 520.56,377.10 521.54,376.63 522.51,376.16 523.48,375.71 524.46,375.27 525.43,374.83 526.40,374.41 527.38,373.99 528.35,373.59 529.32,373.19 530.29,372.81 531.27,372.43 532.24,372.07 533.21,371.71 534.19,371.37 535.16,371.03 536.13,370.71 537.10,370.39 538.08,370.09 539.05,369.79 540.02,369.50 541.00,369.23 541.97,368.96 542.94,368.70 543.92,368.46 544.89,368.22 545.86,367.99 546.83,367.78 547.81,367.57 548.78,367.37 549.75,367.18 550.73,367.01 551.70,366.84 552.67,366.68 553.64,366.53 554.62,366.39 555.59,366.26 556.56,366.15 557.54,366.04 558.51,365.94 559.48,365.85 560.46,365.77 561.43,365.70 562.40,365.64 563.37,365.59 564.35,365.55 565.32,365.52 566.29,365.50 567.27,365.49 568.24,365.49 569.21,365.50 570.19,365.52 571.16,365.55 572.13,365.59 573.10,365.64 574.08,365.69 575.05,365.76 576.02,365.84 577.00,365.93 577.97,366.03 578.94,366.14 579.91,366.25 580.89,366.38 581.86,366.52 582.83,366.67 583.81,366.82 584.78,366.99 585.75,367.17 586.73,367.35 587.70,367.55 588.67,367.76 589.64,367.97 590.62,368.20 591.59,368.43" fill="none" stroke="#c00000" stroke-width="1.45" stroke-dasharray="0.01 2.05" stroke-linecap="round"/>
<polyline points="397.00,517.30 397.97,515.72 398.95,514.15 399.92,512.58 400.89,511.03 401.86,509.48 402.84,507.95 403.81,506.42 404.78,504.90 405.76,503.39 406.73,501.89 407.70,500.40 408.68,498.92 409.65,497.45 410.62,495.98 411.59,494.53 412.57,493.08 413.54,491.64 414.51,490.21 415.49,488.79 416.46,487.38 417.43,485.98 418.40,484.59 419.38,483.20 420.35,481.83 421.32,480.46 422.30,479.11 423.27,477.76 424.24,476.42 425.22,475.09 426.19,473.77 427.16,472.46 428.13,471.15 429.11,469.86 430.08,468.57 431.05,467.30 432.03,466.03 433.00,464.77 433.97,463.52 434.95,462.28 435.92,461.05 436.89,459.83 437.86,458.61 438.84,457.41 439.81,456.21 440.78,455.02 441.76,453.85 442.73,452.68 443.70,451.52 444.67,450.37 445.65,449.22 446.62,448.09 447.59,446.97 448.57,445.85 449.54,444.75 450.51,443.65 451.49,442.56 452.46,441.48 453.43,440.41 454.40,439.35 455.38,438.30 456.35,437.25 457.32,436.22 458.30,435.19 459.27,434.18 460.24,433.17 461.21,432.17 462.19,431.18 463.16,430.20 464.13,429.23 465.11,428.26 466.08,427.31 467.05,426.36 468.03,425.43 469.00,424.50 469.97,423.58 470.94,422.67 471.92,421.77 472.89,420.88 473.86,420.00 474.84,419.13 475.81,418.26 476.78,417.41 477.75,416.56 478.73,415.72 479.70,414.89 480.67,414.07 481.65,413.26 482.62,412.46 483.59,411.67 484.57,410.89 485.54,410.11 486.51,409.34 487.48,408.59 488.46,407.84 489.43,407.10 490.40,406.37 491.38,405.65 492.35,404.94 493.32,404.23 494.30,403.54 495.27,402.85 496.24,402.18 497.21,401.51 498.19,400.85 499.16,400.20 500.13,399.56 501.11,398.93 502.08,398.31 503.05,397.70 504.02,397.09 505.00,396.49 505.97,395.91 506.94,395.33 507.92,394.76 508.89,394.20 509.86,393.65 510.84,393.11 511.81,392.58 512.78,392.05 513.75,391.54 514.73,391.03 515.70,390.53 516.67,390.04 517.65,389.57 518.62,389.10 519.59,388.63 520.56,388.18 521.54,387.74 522.51,387.30 523.48,386.88 524.46,386.46 525.43,386.05 526.40,385.65 527.38,385.27 528.35,384.88 529.32,384.51 530.29,384.15 531.27,383.80 532.24,383.45 533.21,383.11 534.19,382.79 535.16,382.47 536.13,382.16 537.10,381.86 538.08,381.57 539.05,381.29 540.02,381.01 541.00,380.75 541.97,380.49 542.94,380.25 543.92,380.01 544.89,379.78 545.86,379.56 546.83,379.35 547.81,379.15 548.78,378.96 549.75,378.77 550.73,378.60 551.70,378.43 552.67,378.28 553.64,378.13 554.62,377.99 555.59,377.86 556.56,377.74 557.54,377.63 558.51,377.52 559.48,377.43 560.46,377.34 561.43,377.27 562.40,377.20 563.37,377.14 564.35,377.09 565.32,377.05 566.29,377.02 567.27,377.00 568.24,376.98 569.21,376.98 570.19,376.98 571.16,377.00 572.13,377.02 573.10,377.05 574.08,377.09 575.05,377.14 576.02,377.20 577.00,377.27 577.97,377.34 578.94,377.43 579.91,377.52 580.89,377.62 581.86,377.74 582.83,377.86 583.81,377.99 584.78,378.13 585.75,378.27 586.73,378.43 587.70,378.60 588.67,378.77 589.64,378.95 590.62,379.15 591.59,379.35" fill="none" stroke="#1f3864" stroke-width="1.45" stroke-dasharray="0.01 2.05" stroke-linecap="round"/>
<circle cx="448.00" cy="359.60" r="3.0" fill="none" stroke="#c00000" stroke-width="1.6"/>
<text x="453.00" y="362.46" font-size="8.0" fill="#c00000" textLength="41.00" lengthAdjust="spacingAndGlyphs"><tspan font-style="italic">T. lineatum</tspan></text>
<polygon points="448.00,373.70 451.20,379.60 444.80,379.60" fill="none" stroke="#1f3864" stroke-width="1.6" stroke-linejoin="miter"/>
<text x="453.00" y="379.86" font-size="8.0" fill="#404040" textLength="43.00" lengthAdjust="spacingAndGlyphs"><tspan font-style="italic">T. signatum</tspan></text>
<rect x="535.00" y="420.00" width="95.00" height="52.00" fill="#fff" stroke="none" stroke-width="1"/>
<text x="537.60" y="431.39" font-size="7.8" fill="#404040" textLength="88.80" lengthAdjust="spacingAndGlyphs"><tspan>y = -0.0003x</tspan><tspan font-size="4.84" dy="-2.96">2</tspan><tspan dy="2.96"> + 0.0077x</tspan></text>
<text x="560.20" y="443.19" font-size="7.8" fill="#404040" textLength="43.00" lengthAdjust="spacingAndGlyphs"><tspan>R</tspan><tspan font-size="4.84" dy="-2.96">2</tspan><tspan dy="2.96"> = 0.9578</tspan></text>
<text x="539.20" y="456.99" font-size="7.8" fill="#d03030" textLength="88.70" lengthAdjust="spacingAndGlyphs"><tspan>y = -0.0003x</tspan><tspan font-size="4.84" dy="-2.96">2</tspan><tspan dy="2.96"> + 0.0084x</tspan></text>
<text x="560.20" y="468.79" font-size="7.8" fill="#d03030" textLength="43.00" lengthAdjust="spacingAndGlyphs"><tspan>R</tspan><tspan font-size="4.84" dy="-2.96">2</tspan><tspan dy="2.96"> = 0.9424</tspan></text>
<circle cx="410.42" cy="490.60" r="3.0" fill="none" stroke="#c00000" stroke-width="1.6"/>
<circle cx="419.81" cy="457.66" r="3.0" fill="none" stroke="#c00000" stroke-width="1.6"/>
<circle cx="433.23" cy="466.18" r="3.0" fill="none" stroke="#c00000" stroke-width="1.6"/>
<circle cx="449.34" cy="446.87" r="3.0" fill="none" stroke="#c00000" stroke-width="1.6"/>
<circle cx="591.59" cy="368.20" r="3.0" fill="none" stroke="#c00000" stroke-width="1.6"/>
<polygon points="410.42,485.32 413.62,491.22 407.22,491.22" fill="none" stroke="#1f3864" stroke-width="1.6" stroke-linejoin="miter"/>
<polygon points="419.81,463.73 423.01,469.63 416.61,469.63" fill="none" stroke="#1f3864" stroke-width="1.6" stroke-linejoin="miter"/>
<polygon points="433.23,468.56 436.43,474.46 430.03,474.46" fill="none" stroke="#1f3864" stroke-width="1.6" stroke-linejoin="miter"/>
<polygon points="449.34,448.11 452.54,454.01 446.14,454.01" fill="none" stroke="#1f3864" stroke-width="1.6" stroke-linejoin="miter"/>
<polygon points="591.59,375.69 594.79,381.59 588.39,381.59" fill="none" stroke="#1f3864" stroke-width="1.6" stroke-linejoin="miter"/>
<rect x="0.50" y="588.50" width="335.30" height="269.00" fill="none" stroke="#383838" stroke-width="1.0"/>
<text x="100.30" y="608.06" font-size="11.9" fill="#2b2b2b" textLength="135.10" lengthAdjust="spacingAndGlyphs"><tspan font-style="italic">Pityogenes chalcographus</tspan></text>
<text x="64.90" y="624.26" font-size="11.9" fill="#2b2b2b" textLength="205.90" lengthAdjust="spacingAndGlyphs"><tspan>Ratio catches vs. ratio interception area</tspan></text>
<text x="310.00" y="614.68" font-size="15.6" fill="#2b2b2b" textLength="16.80" lengthAdjust="spacingAndGlyphs"><tspan>(E)</tspan></text>
<line x1="86.68" y1="811.60" x2="86.68" y2="639.22" stroke="#d9d9d9" stroke-width="0.9"/>
<line x1="120.06" y1="811.60" x2="120.06" y2="639.22" stroke="#d9d9d9" stroke-width="0.9"/>
<line x1="153.44" y1="811.60" x2="153.44" y2="639.22" stroke="#d9d9d9" stroke-width="0.9"/>
<line x1="186.82" y1="811.60" x2="186.82" y2="639.22" stroke="#d9d9d9" stroke-width="0.9"/>
<line x1="220.20" y1="811.60" x2="220.20" y2="639.22" stroke="#d9d9d9" stroke-width="0.9"/>
<line x1="253.58" y1="811.60" x2="253.58" y2="639.22" stroke="#d9d9d9" stroke-width="0.9"/>
<line x1="286.96" y1="811.60" x2="286.96" y2="639.22" stroke="#d9d9d9" stroke-width="0.9"/>
<line x1="320.34" y1="811.60" x2="320.34" y2="639.22" stroke="#d9d9d9" stroke-width="0.9"/>
<line x1="53.30" y1="782.87" x2="320.34" y2="782.87" stroke="#d9d9d9" stroke-width="0.9"/>
<line x1="53.30" y1="754.14" x2="320.34" y2="754.14" stroke="#d9d9d9" stroke-width="0.9"/>
<line x1="53.30" y1="725.41" x2="320.34" y2="725.41" stroke="#d9d9d9" stroke-width="0.9"/>
<line x1="53.30" y1="696.68" x2="320.34" y2="696.68" stroke="#d9d9d9" stroke-width="0.9"/>
<line x1="53.30" y1="667.95" x2="320.34" y2="667.95" stroke="#d9d9d9" stroke-width="0.9"/>
<line x1="53.30" y1="639.22" x2="320.34" y2="639.22" stroke="#d9d9d9" stroke-width="0.9"/>
<line x1="60.50" y1="726.80" x2="110.40" y2="726.80" stroke="#4472c4" stroke-width="1.4"/>
<line x1="60.50" y1="726.80" x2="60.50" y2="802.00" stroke="#4472c4" stroke-width="1.4"/>
<line x1="60.50" y1="802.00" x2="122.50" y2="802.00" stroke="#4472c4" stroke-width="1.4"/>
<line x1="122.50" y1="802.00" x2="122.50" y2="737.30" stroke="#4472c4" stroke-width="1.4"/>
<line x1="64.50" y1="739.70" x2="96.00" y2="739.70" stroke="#c00000" stroke-width="1.4"/>
<line x1="64.50" y1="739.70" x2="64.50" y2="797.40" stroke="#c00000" stroke-width="1.4"/>
<line x1="64.50" y1="797.40" x2="111.10" y2="797.40" stroke="#c00000" stroke-width="1.4"/>
<line x1="111.10" y1="797.40" x2="111.10" y2="751.10" stroke="#c00000" stroke-width="1.4"/>
<rect x="111.00" y="718.00" width="26.00" height="19.00" fill="#fff" stroke="none" stroke-width="1"/>
<text x="117.70" y="731.25" font-size="8.8" fill="#3d94d6" textLength="10.50" lengthAdjust="spacingAndGlyphs"><tspan>(2)</tspan></text>
<text x="103.20" y="745.45" font-size="8.8" fill="#d04040" textLength="10.30" lengthAdjust="spacingAndGlyphs"><tspan>(1)</tspan></text>
<line x1="53.30" y1="814.80" x2="53.30" y2="639.22" stroke="#262626" stroke-width="1.0"/>
<line x1="50.10" y1="811.60" x2="53.30" y2="811.60" stroke="#262626" stroke-width="1.1"/>
<line x1="50.10" y1="782.87" x2="53.30" y2="782.87" stroke="#262626" stroke-width="1.1"/>
<line x1="50.10" y1="754.14" x2="53.30" y2="754.14" stroke="#262626" stroke-width="1.1"/>
<line x1="50.10" y1="725.41" x2="53.30" y2="725.41" stroke="#262626" stroke-width="1.1"/>
<line x1="50.10" y1="696.68" x2="53.30" y2="696.68" stroke="#262626" stroke-width="1.1"/>
<line x1="50.10" y1="667.95" x2="53.30" y2="667.95" stroke="#262626" stroke-width="1.1"/>
<line x1="50.10" y1="639.22" x2="53.30" y2="639.22" stroke="#262626" stroke-width="1.1"/>
<line x1="53.30" y1="811.60" x2="320.34" y2="811.60" stroke="#404040" stroke-width="1.5"/>
<line x1="53.30" y1="811.60" x2="53.30" y2="814.80" stroke="#404040" stroke-width="1.1"/>
<line x1="86.68" y1="811.60" x2="86.68" y2="814.80" stroke="#404040" stroke-width="1.1"/>
<line x1="120.06" y1="811.60" x2="120.06" y2="814.80" stroke="#404040" stroke-width="1.1"/>
<line x1="153.44" y1="811.60" x2="153.44" y2="814.80" stroke="#404040" stroke-width="1.1"/>
<line x1="186.82" y1="811.60" x2="186.82" y2="814.80" stroke="#404040" stroke-width="1.1"/>
<line x1="220.20" y1="811.60" x2="220.20" y2="814.80" stroke="#404040" stroke-width="1.1"/>
<line x1="253.58" y1="811.60" x2="253.58" y2="814.80" stroke="#404040" stroke-width="1.1"/>
<line x1="286.96" y1="811.60" x2="286.96" y2="814.80" stroke="#404040" stroke-width="1.1"/>
<line x1="320.34" y1="811.60" x2="320.34" y2="814.80" stroke="#404040" stroke-width="1.1"/>
<text x="44.90" y="814.61" font-size="8.4" fill="#383838" text-anchor="end">0.00</text>
<text x="44.90" y="785.88" font-size="8.4" fill="#383838" text-anchor="end">0.10</text>
<text x="44.90" y="757.15" font-size="8.4" fill="#383838" text-anchor="end">0.20</text>
<text x="44.90" y="728.42" font-size="8.4" fill="#383838" text-anchor="end">0.30</text>
<text x="44.90" y="699.69" font-size="8.4" fill="#383838" text-anchor="end">0.40</text>
<text x="44.90" y="670.96" font-size="8.4" fill="#383838" text-anchor="end">0.50</text>
<text x="44.90" y="642.23" font-size="8.4" fill="#383838" text-anchor="end">0.60</text>
<text x="53.30" y="827.11" font-size="8.7" fill="#383838" text-anchor="middle">0</text>
<text x="86.68" y="827.11" font-size="8.7" fill="#383838" text-anchor="middle">2</text>
<text x="120.06" y="827.11" font-size="8.7" fill="#383838" text-anchor="middle">4</text>
<text x="153.44" y="827.11" font-size="8.7" fill="#383838" text-anchor="middle">6</text>
<text x="186.82" y="827.11" font-size="8.7" fill="#383838" text-anchor="middle">8</text>
<text x="220.20" y="827.11" font-size="8.7" fill="#383838" text-anchor="middle">10</text>
<text x="253.58" y="827.11" font-size="8.7" fill="#383838" text-anchor="middle">12</text>
<text x="286.96" y="827.11" font-size="8.7" fill="#383838" text-anchor="middle">14</text>
<text x="320.34" y="827.11" font-size="8.7" fill="#383838" text-anchor="middle">16</text>
<text x="118.60" y="842.18" font-size="10.0" fill="#2b2b2b" textLength="137.40" lengthAdjust="spacingAndGlyphs"><tspan>Ratio interception area (Sn/S1)</tspan></text>
<text transform="translate(18.90,778.70) rotate(-90)" x="0" y="0" font-size="10.0" fill="#2b2b2b" textLength="120.10" lengthAdjust="spacingAndGlyphs">Ratio total catches (Cn/C1)</text>
<polyline points="69.99,784.94 71.12,784.39 72.24,783.83 73.37,783.28 74.50,782.73 75.62,782.18 76.75,781.62 77.88,781.07 79.00,780.52 80.13,779.96 81.26,779.41 82.38,778.86 83.51,778.31 84.64,777.75 85.76,777.20 86.89,776.65 88.02,776.10 89.14,775.54 90.27,774.99 91.39,774.44 92.52,773.88 93.65,773.33 94.77,772.78 95.90,772.23 97.03,771.67 98.15,771.12 99.28,770.57 100.41,770.02 101.53,769.46 102.66,768.91 103.79,768.36 104.91,767.81 106.04,767.25 107.17,766.70 108.29,766.15 109.42,765.59 110.55,765.04 111.67,764.49 112.80,763.94 113.93,763.38 115.05,762.83 116.18,762.28 117.31,761.73 118.43,761.17 119.56,760.62 120.69,760.07 121.81,759.51 122.94,758.96 124.07,758.41 125.19,757.86 126.32,757.30 127.45,756.75 128.57,756.20 129.70,755.65 130.83,755.09 131.95,754.54 133.08,753.99 134.20,753.44 135.33,752.88 136.46,752.33 137.58,751.78 138.71,751.22 139.84,750.67 140.96,750.12 142.09,749.57 143.22,749.01 144.34,748.46 145.47,747.91 146.60,747.36 147.72,746.80 148.85,746.25 149.98,745.70 151.10,745.14 152.23,744.59 153.36,744.04 154.48,743.49 155.61,742.93 156.74,742.38 157.86,741.83 158.99,741.28 160.12,740.72 161.24,740.17 162.37,739.62 163.50,739.07 164.62,738.51 165.75,737.96 166.88,737.41 168.00,736.85 169.13,736.30 170.26,735.75 171.38,735.20 172.51,734.64 173.63,734.09 174.76,733.54 175.89,732.99 177.01,732.43 178.14,731.88 179.27,731.33 180.39,730.77 181.52,730.22 182.65,729.67 183.77,729.12 184.90,728.56 186.03,728.01 187.15,727.46 188.28,726.91 189.41,726.35 190.53,725.80 191.66,725.25 192.79,724.69 193.91,724.14 195.04,723.59 196.17,723.04 197.29,722.48 198.42,721.93 199.55,721.38 200.67,720.83 201.80,720.27 202.93,719.72 204.05,719.17 205.18,718.62 206.31,718.06 207.43,717.51 208.56,716.96 209.69,716.40 210.81,715.85 211.94,715.30 213.07,714.75 214.19,714.19 215.32,713.64 216.44,713.09 217.57,712.54 218.70,711.98 219.82,711.43 220.95,710.88 222.08,710.32 223.20,709.77 224.33,709.22 225.46,708.67 226.58,708.11 227.71,707.56 228.84,707.01 229.96,706.46 231.09,705.90 232.22,705.35 233.34,704.80 234.47,704.25 235.60,703.69 236.72,703.14 237.85,702.59 238.98,702.03 240.10,701.48 241.23,700.93 242.36,700.38 243.48,699.82 244.61,699.27 245.74,698.72 246.86,698.17 247.99,697.61 249.12,697.06 250.24,696.51 251.37,695.95 252.50,695.40 253.62,694.85 254.75,694.30 255.87,693.74 257.00,693.19 258.13,692.64 259.25,692.09 260.38,691.53 261.51,690.98 262.63,690.43 263.76,689.88 264.89,689.32 266.01,688.77 267.14,688.22 268.27,687.66 269.39,687.11 270.52,686.56 271.65,686.01 272.77,685.45 273.90,684.90 275.03,684.35 276.15,683.80 277.28,683.24 278.41,682.69 279.53,682.14 280.66,681.58 281.79,681.03 282.91,680.48 284.04,679.93 285.17,679.37 286.29,678.82 287.42,678.27 288.55,677.72 289.67,677.16 290.80,676.61 291.93,676.06 293.05,675.51 294.18,674.95 295.31,674.40" fill="none" stroke="#000" stroke-width="1.6" stroke-dasharray="0.01 2.8" stroke-linecap="round"/>
<rect x="136.00" y="703.30" width="100.80" height="26.30" fill="#fff" stroke="none" stroke-width="1"/>
<text x="155.70" y="714.49" font-size="7.8" fill="#284a8a" textLength="77.30" lengthAdjust="spacingAndGlyphs"><tspan>y = 0.0285x + 0.0643</tspan></text>
<text x="173.30" y="725.59" font-size="7.8" fill="#284a8a" textLength="42.70" lengthAdjust="spacingAndGlyphs"><tspan>R</tspan><tspan font-size="4.84" dy="-2.96">2</tspan><tspan dy="2.96"> = 0.9954</tspan></text>
<circle cx="69.99" cy="783.73" r="3.3" fill="#0b1f4f" stroke="#000" stroke-width="0.8"/>
<circle cx="82.01" cy="782.87" r="3.3" fill="#0b1f4f" stroke="#000" stroke-width="0.8"/>
<circle cx="97.53" cy="772.81" r="3.3" fill="#0b1f4f" stroke="#000" stroke-width="0.8"/>
<circle cx="118.06" cy="757.01" r="3.3" fill="#0b1f4f" stroke="#000" stroke-width="0.8"/>
<circle cx="295.31" cy="674.56" r="3.3" fill="#0b1f4f" stroke="#000" stroke-width="0.8"/>
<rect x="343.00" y="588.50" width="335.50" height="269.00" fill="none" stroke="#383838" stroke-width="1.0"/>
<text x="450.70" y="607.66" font-size="11.9" fill="#2b2b2b" textLength="119.80" lengthAdjust="spacingAndGlyphs"><tspan font-style="italic">Trypodendron lineatum</tspan></text>
<text x="460.30" y="624.36" font-size="11.9" fill="#2b2b2b" textLength="103.20" lengthAdjust="spacingAndGlyphs"><tspan>(Hoover et al. 2000)</tspan></text>
<text x="652.70" y="612.73" font-size="15.6" fill="#2b2b2b" textLength="15.80" lengthAdjust="spacingAndGlyphs"><tspan>(F)</tspan></text>
<line x1="448.48" y1="811.20" x2="448.48" y2="640.90" stroke="#d9d9d9" stroke-width="0.9"/>
<line x1="501.26" y1="811.20" x2="501.26" y2="640.90" stroke="#d9d9d9" stroke-width="0.9"/>
<line x1="554.04" y1="811.20" x2="554.04" y2="640.90" stroke="#d9d9d9" stroke-width="0.9"/>
<line x1="606.82" y1="811.20" x2="606.82" y2="640.90" stroke="#d9d9d9" stroke-width="0.9"/>
<line x1="659.60" y1="811.20" x2="659.60" y2="640.90" stroke="#d9d9d9" stroke-width="0.9"/>
<line x1="395.70" y1="794.17" x2="659.60" y2="794.17" stroke="#d9d9d9" stroke-width="0.9"/>
<line x1="395.70" y1="777.14" x2="659.60" y2="777.14" stroke="#d9d9d9" stroke-width="0.9"/>
<line x1="395.70" y1="760.11" x2="659.60" y2="760.11" stroke="#d9d9d9" stroke-width="0.9"/>
<line x1="395.70" y1="743.08" x2="659.60" y2="743.08" stroke="#d9d9d9" stroke-width="0.9"/>
<line x1="395.70" y1="726.05" x2="659.60" y2="726.05" stroke="#d9d9d9" stroke-width="0.9"/>
<line x1="395.70" y1="709.02" x2="659.60" y2="709.02" stroke="#d9d9d9" stroke-width="0.9"/>
<line x1="395.70" y1="691.99" x2="659.60" y2="691.99" stroke="#d9d9d9" stroke-width="0.9"/>
<line x1="395.70" y1="674.96" x2="659.60" y2="674.96" stroke="#d9d9d9" stroke-width="0.9"/>
<line x1="395.70" y1="657.93" x2="659.60" y2="657.93" stroke="#d9d9d9" stroke-width="0.9"/>
<line x1="395.70" y1="640.90" x2="659.60" y2="640.90" stroke="#d9d9d9" stroke-width="0.9"/>
<rect x="399.00" y="648.00" width="58.00" height="25.00" fill="#fff" stroke="none" stroke-width="1"/>
<line x1="395.70" y1="814.40" x2="395.70" y2="640.90" stroke="#595959" stroke-width="1.6"/>
<line x1="392.50" y1="811.20" x2="395.70" y2="811.20" stroke="#595959" stroke-width="1.1"/>
<line x1="392.50" y1="794.17" x2="395.70" y2="794.17" stroke="#595959" stroke-width="1.1"/>
<line x1="392.50" y1="777.14" x2="395.70" y2="777.14" stroke="#595959" stroke-width="1.1"/>
<line x1="392.50" y1="760.11" x2="395.70" y2="760.11" stroke="#595959" stroke-width="1.1"/>
<line x1="392.50" y1="743.08" x2="395.70" y2="743.08" stroke="#595959" stroke-width="1.1"/>
<line x1="392.50" y1="726.05" x2="395.70" y2="726.05" stroke="#595959" stroke-width="1.1"/>
<line x1="392.50" y1="709.02" x2="395.70" y2="709.02" stroke="#595959" stroke-width="1.1"/>
<line x1="392.50" y1="691.99" x2="395.70" y2="691.99" stroke="#595959" stroke-width="1.1"/>
<line x1="392.50" y1="674.96" x2="395.70" y2="674.96" stroke="#595959" stroke-width="1.1"/>
<line x1="392.50" y1="657.93" x2="395.70" y2="657.93" stroke="#595959" stroke-width="1.1"/>
<line x1="392.50" y1="640.90" x2="395.70" y2="640.90" stroke="#595959" stroke-width="1.1"/>
<line x1="395.70" y1="811.20" x2="659.60" y2="811.20" stroke="#555555" stroke-width="1.8"/>
<line x1="395.70" y1="811.20" x2="395.70" y2="814.40" stroke="#555555" stroke-width="1.1"/>
<line x1="448.48" y1="811.20" x2="448.48" y2="814.40" stroke="#555555" stroke-width="1.1"/>
<line x1="501.26" y1="811.20" x2="501.26" y2="814.40" stroke="#555555" stroke-width="1.1"/>
<line x1="554.04" y1="811.20" x2="554.04" y2="814.40" stroke="#555555" stroke-width="1.1"/>
<line x1="606.82" y1="811.20" x2="606.82" y2="814.40" stroke="#555555" stroke-width="1.1"/>
<line x1="659.60" y1="811.20" x2="659.60" y2="814.40" stroke="#555555" stroke-width="1.1"/>
<text x="387.90" y="814.21" font-size="8.4" fill="#383838" text-anchor="end">0.00</text>
<text x="387.90" y="797.18" font-size="8.4" fill="#383838" text-anchor="end">0.05</text>
<text x="387.90" y="780.15" font-size="8.4" fill="#383838" text-anchor="end">0.10</text>
<text x="387.90" y="763.12" font-size="8.4" fill="#383838" text-anchor="end">0.15</text>
<text x="387.90" y="746.09" font-size="8.4" fill="#383838" text-anchor="end">0.20</text>
<text x="387.90" y="729.06" font-size="8.4" fill="#383838" text-anchor="end">0.25</text>
<text x="387.90" y="712.03" font-size="8.4" fill="#383838" text-anchor="end">0.30</text>
<text x="387.90" y="695.00" font-size="8.4" fill="#383838" text-anchor="end">0.35</text>
<text x="387.90" y="677.97" font-size="8.4" fill="#383838" text-anchor="end">0.40</text>
<text x="387.90" y="660.94" font-size="8.4" fill="#383838" text-anchor="end">0.45</text>
<text x="387.90" y="643.91" font-size="8.4" fill="#383838" text-anchor="end">0.50</text>
<text x="395.70" y="826.49" font-size="8.9" fill="#383838" text-anchor="middle">0</text>
<text x="448.48" y="826.49" font-size="8.9" fill="#383838" text-anchor="middle">1</text>
<text x="501.26" y="826.49" font-size="8.9" fill="#383838" text-anchor="middle">2</text>
<text x="554.04" y="826.49" font-size="8.9" fill="#383838" text-anchor="middle">3</text>
<text x="606.82" y="826.49" font-size="8.9" fill="#383838" text-anchor="middle">4</text>
<text x="659.60" y="826.49" font-size="8.9" fill="#383838" text-anchor="middle">5</text>
<text x="459.20" y="841.18" font-size="10.0" fill="#2b2b2b" textLength="138.30" lengthAdjust="spacingAndGlyphs"><tspan>Ratio interception area (Sn/S1)</tspan></text>
<text transform="translate(361.10,775.60) rotate(-90)" x="0" y="0" font-size="10.0" fill="#2b2b2b" textLength="120.50" lengthAdjust="spacingAndGlyphs">Ratio total catches (Cn/C1)</text>
<polyline points="395.70,811.20 396.76,810.50 397.81,809.80 398.87,809.10 399.92,808.40 400.98,807.70 402.03,806.99 403.09,806.29 404.14,805.59 405.20,804.89 406.26,804.19 407.31,803.49 408.37,802.79 409.42,802.09 410.48,801.39 411.53,800.69 412.59,799.98 413.65,799.28 414.70,798.58 415.76,797.88 416.81,797.18 417.87,796.48 418.92,795.78 419.98,795.08 421.03,794.38 422.09,793.68 423.15,792.98 424.20,792.27 425.26,791.57 426.31,790.87 427.37,790.17 428.42,789.47 429.48,788.77 430.53,788.07 431.59,787.37 432.65,786.67 433.70,785.97 434.76,785.26 435.81,784.56 436.87,783.86 437.92,783.16 438.98,782.46 440.04,781.76 441.09,781.06 442.15,780.36 443.20,779.66 444.26,778.96 445.31,778.26 446.37,777.55 447.42,776.85 448.48,776.15 449.54,775.45 450.59,774.75 451.65,774.05 452.70,773.35 453.76,772.65 454.81,771.95 455.87,771.25 456.92,770.54 457.98,769.84 459.04,769.14 460.09,768.44 461.15,767.74 462.20,767.04 463.26,766.34 464.31,765.64 465.37,764.94 466.43,764.24 467.48,763.54 468.54,762.83 469.59,762.13 470.65,761.43 471.70,760.73 472.76,760.03 473.81,759.33 474.87,758.63 475.93,757.93 476.98,757.23 478.04,756.53 479.09,755.82 480.15,755.12 481.20,754.42 482.26,753.72 483.31,753.02 484.37,752.32 485.43,751.62 486.48,750.92 487.54,750.22 488.59,749.52 489.65,748.82 490.70,748.11 491.76,747.41 492.82,746.71 493.87,746.01 494.93,745.31 495.98,744.61 497.04,743.91 498.09,743.21 499.15,742.51 500.20,741.81 501.26,741.10 502.32,740.40 503.37,739.70 504.43,739.00 505.48,738.30 506.54,737.60 507.59,736.90 508.65,736.20 509.70,735.50 510.76,734.80 511.82,734.09 512.87,733.39 513.93,732.69 514.98,731.99 516.04,731.29 517.09,730.59 518.15,729.89 519.21,729.19 520.26,728.49 521.32,727.79 522.37,727.09 523.43,726.38 524.48,725.68 525.54,724.98 526.59,724.28 527.65,723.58 528.71,722.88 529.76,722.18 530.82,721.48 531.87,720.78 532.93,720.08 533.98,719.37 535.04,718.67 536.09,717.97 537.15,717.27 538.21,716.57 539.26,715.87 540.32,715.17 541.37,714.47 542.43,713.77 543.48,713.07 544.54,712.37 545.60,711.66 546.65,710.96 547.71,710.26 548.76,709.56 549.82,708.86 550.87,708.16 551.93,707.46 552.98,706.76 554.04,706.06 555.10,705.36 556.15,704.65 557.21,703.95 558.26,703.25 559.32,702.55 560.37,701.85 561.43,701.15 562.48,700.45 563.54,699.75 564.60,699.05 565.65,698.35 566.71,697.65 567.76,696.94 568.82,696.24 569.87,695.54 570.93,694.84 571.99,694.14 573.04,693.44 574.10,692.74 575.15,692.04 576.21,691.34 577.26,690.64 578.32,689.93 579.37,689.23 580.43,688.53 581.49,687.83 582.54,687.13 583.60,686.43 584.65,685.73 585.71,685.03 586.76,684.33 587.82,683.63 588.87,682.93 589.93,682.22 590.99,681.52 592.04,680.82 593.10,680.12 594.15,679.42 595.21,678.72 596.26,678.02 597.32,677.32 598.38,676.62 599.43,675.92 600.49,675.21 601.54,674.51 602.60,673.81 603.65,673.11 604.71,672.41 605.76,671.71 606.82,671.01" fill="none" stroke="#1a1a1a" stroke-width="1.5" stroke-dasharray="0.01 2.65" stroke-linecap="round"/>
<polyline points="395.70,811.20 396.76,810.49 397.81,809.78 398.87,809.07 399.92,808.36 400.98,807.65 402.03,806.94 403.09,806.23 404.14,805.52 405.20,804.81 406.26,804.10 407.31,803.38 408.37,802.67 409.42,801.96 410.48,801.25 411.53,800.54 412.59,799.83 413.65,799.12 414.70,798.41 415.76,797.70 416.81,796.99 417.87,796.28 418.92,795.57 419.98,794.86 421.03,794.15 422.09,793.44 423.15,792.73 424.20,792.02 425.26,791.31 426.31,790.60 427.37,789.89 428.42,789.17 429.48,788.46 430.53,787.75 431.59,787.04 432.65,786.33 433.70,785.62 434.76,784.91 435.81,784.20 436.87,783.49 437.92,782.78 438.98,782.07 440.04,781.36 441.09,780.65 442.15,779.94 443.20,779.23 444.26,778.52 445.31,777.81 446.37,777.10 447.42,776.39 448.48,775.68 449.54,774.96 450.59,774.25 451.65,773.54 452.70,772.83 453.76,772.12 454.81,771.41 455.87,770.70 456.92,769.99 457.98,769.28 459.04,768.57 460.09,767.86 461.15,767.15 462.20,766.44 463.26,765.73 464.31,765.02 465.37,764.31 466.43,763.60 467.48,762.89 468.54,762.18 469.59,761.47 470.65,760.76 471.70,760.04 472.76,759.33 473.81,758.62 474.87,757.91 475.93,757.20 476.98,756.49 478.04,755.78 479.09,755.07 480.15,754.36 481.20,753.65 482.26,752.94 483.31,752.23 484.37,751.52 485.43,750.81 486.48,750.10 487.54,749.39 488.59,748.68 489.65,747.97 490.70,747.26 491.76,746.55 492.82,745.83 493.87,745.12 494.93,744.41 495.98,743.70 497.04,742.99 498.09,742.28 499.15,741.57 500.20,740.86 501.26,740.15 502.32,739.44 503.37,738.73 504.43,738.02 505.48,737.31 506.54,736.60 507.59,735.89 508.65,735.18 509.70,734.47 510.76,733.76 511.82,733.05 512.87,732.34 513.93,731.62 514.98,730.91 516.04,730.20 517.09,729.49 518.15,728.78 519.21,728.07 520.26,727.36 521.32,726.65 522.37,725.94 523.43,725.23 524.48,724.52 525.54,723.81 526.59,723.10 527.65,722.39 528.71,721.68 529.76,720.97 530.82,720.26 531.87,719.55 532.93,718.84 533.98,718.13 535.04,717.42 536.09,716.70 537.15,715.99 538.21,715.28 539.26,714.57 540.32,713.86 541.37,713.15 542.43,712.44 543.48,711.73 544.54,711.02 545.60,710.31 546.65,709.60 547.71,708.89 548.76,708.18 549.82,707.47 550.87,706.76 551.93,706.05 552.98,705.34 554.04,704.63 555.10,703.92 556.15,703.21 557.21,702.49 558.26,701.78 559.32,701.07 560.37,700.36 561.43,699.65 562.48,698.94 563.54,698.23 564.60,697.52 565.65,696.81 566.71,696.10 567.76,695.39 568.82,694.68 569.87,693.97 570.93,693.26 571.99,692.55 573.04,691.84 574.10,691.13 575.15,690.42 576.21,689.71 577.26,689.00 578.32,688.28 579.37,687.57 580.43,686.86 581.49,686.15 582.54,685.44 583.60,684.73 584.65,684.02 585.71,683.31 586.76,682.60 587.82,681.89 588.87,681.18 589.93,680.47 590.99,679.76 592.04,679.05 593.10,678.34 594.15,677.63 595.21,676.92 596.26,676.21 597.32,675.50 598.38,674.79 599.43,674.08 600.49,673.36 601.54,672.65 602.60,671.94 603.65,671.23 604.71,670.52 605.76,669.81 606.82,669.10" fill="none" stroke="#c00000" stroke-width="1.3" stroke-dasharray="0.01 2.65" stroke-linecap="round"/>
<circle cx="412.40" cy="654.40" r="3.0" fill="none" stroke="#c00000" stroke-width="1.6"/>
<text x="418.00" y="657.26" font-size="8.0" fill="#c00000" textLength="30.00" lengthAdjust="spacingAndGlyphs"><tspan font-style="italic">Females</tspan></text>
<rect x="409.55" y="663.75" width="5.70" height="5.70" fill="none" stroke="#000" stroke-width="1.6"/>
<text x="418.00" y="669.46" font-size="8.0" fill="#284a8a" textLength="22.00" lengthAdjust="spacingAndGlyphs"><tspan font-style="italic">Males</tspan></text>
<rect x="574.00" y="740.00" width="50.00" height="52.00" fill="#fff" stroke="none" stroke-width="1"/>
<text x="577.30" y="750.49" font-size="7.8" fill="#d03030" textLength="43.10" lengthAdjust="spacingAndGlyphs"><tspan>y = 0.1043x</tspan></text>
<text x="577.30" y="762.19" font-size="7.8" fill="#d03030" textLength="43.10" lengthAdjust="spacingAndGlyphs"><tspan>R</tspan><tspan font-size="4.84" dy="-2.96">2</tspan><tspan dy="2.96"> = 0.9894</tspan></text>
<text x="577.30" y="777.19" font-size="7.8" fill="#284a8a" textLength="43.10" lengthAdjust="spacingAndGlyphs"><tspan>y = 0.1029x</tspan></text>
<text x="577.30" y="788.69" font-size="7.8" fill="#284a8a" textLength="43.10" lengthAdjust="spacingAndGlyphs"><tspan>R</tspan><tspan font-size="4.84" dy="-2.96">2</tspan><tspan dy="2.96"> = 0.9946</tspan></text>
<circle cx="448.48" cy="784.97" r="3.0" fill="none" stroke="#c00000" stroke-width="1.6"/>
<circle cx="501.26" cy="754.32" r="3.0" fill="none" stroke="#c00000" stroke-width="1.6"/>
<circle cx="554.04" cy="702.89" r="3.0" fill="none" stroke="#c00000" stroke-width="1.6"/>
<circle cx="606.82" cy="660.31" r="3.0" fill="none" stroke="#c00000" stroke-width="1.6"/>
<rect x="445.63" y="780.42" width="5.70" height="5.70" fill="none" stroke="#000" stroke-width="1.6"/>
<rect x="498.41" y="748.75" width="5.70" height="5.70" fill="none" stroke="#000" stroke-width="1.6"/>
<rect x="551.19" y="699.36" width="5.70" height="5.70" fill="none" stroke="#000" stroke-width="1.6"/>
<rect x="603.97" y="664.28" width="5.70" height="5.70" fill="none" stroke="#000" stroke-width="1.6"/>
<rect x="1.00" y="882.50" width="337.20" height="269.00" fill="none" stroke="#383838" stroke-width="1.0"/>
<text x="107.50" y="901.26" font-size="11.9" fill="#2b2b2b" textLength="124.50" lengthAdjust="spacingAndGlyphs"><tspan font-style="italic">Trypodendron rufitarsus</tspan></text>
<text x="115.20" y="917.06" font-size="11.9" fill="#2b2b2b" textLength="110.80" lengthAdjust="spacingAndGlyphs"><tspan>(Lindgren et al. 2000)</tspan></text>
<text x="311.70" y="906.08" font-size="15.6" fill="#2b2b2b" textLength="18.40" lengthAdjust="spacingAndGlyphs"><tspan>(G)</tspan></text>
<line x1="106.90" y1="1105.30" x2="106.90" y2="934.30" stroke="#d9d9d9" stroke-width="0.9"/>
<line x1="160.00" y1="1105.30" x2="160.00" y2="934.30" stroke="#d9d9d9" stroke-width="0.9"/>
<line x1="213.10" y1="1105.30" x2="213.10" y2="934.30" stroke="#d9d9d9" stroke-width="0.9"/>
<line x1="266.20" y1="1105.30" x2="266.20" y2="934.30" stroke="#d9d9d9" stroke-width="0.9"/>
<line x1="319.30" y1="1105.30" x2="319.30" y2="934.30" stroke="#d9d9d9" stroke-width="0.9"/>
<line x1="53.80" y1="1088.20" x2="319.30" y2="1088.20" stroke="#d9d9d9" stroke-width="0.9"/>
<line x1="53.80" y1="1071.10" x2="319.30" y2="1071.10" stroke="#d9d9d9" stroke-width="0.9"/>
<line x1="53.80" y1="1054.00" x2="319.30" y2="1054.00" stroke="#d9d9d9" stroke-width="0.9"/>
<line x1="53.80" y1="1036.90" x2="319.30" y2="1036.90" stroke="#d9d9d9" stroke-width="0.9"/>
<line x1="53.80" y1="1019.80" x2="319.30" y2="1019.80" stroke="#d9d9d9" stroke-width="0.9"/>
<line x1="53.80" y1="1002.70" x2="319.30" y2="1002.70" stroke="#d9d9d9" stroke-width="0.9"/>
<line x1="53.80" y1="985.60" x2="319.30" y2="985.60" stroke="#d9d9d9" stroke-width="0.9"/>
<line x1="53.80" y1="968.50" x2="319.30" y2="968.50" stroke="#d9d9d9" stroke-width="0.9"/>
<line x1="53.80" y1="951.40" x2="319.30" y2="951.40" stroke="#d9d9d9" stroke-width="0.9"/>
<line x1="53.80" y1="934.30" x2="319.30" y2="934.30" stroke="#d9d9d9" stroke-width="0.9"/>
<rect x="54.00" y="974.00" width="52.00" height="24.00" fill="#fff" stroke="none" stroke-width="1"/>
<line x1="53.80" y1="1108.50" x2="53.80" y2="934.30" stroke="#262626" stroke-width="1.3"/>
<line x1="50.60" y1="1105.30" x2="53.80" y2="1105.30" stroke="#262626" stroke-width="1.1"/>
<line x1="50.60" y1="1088.20" x2="53.80" y2="1088.20" stroke="#262626" stroke-width="1.1"/>
<line x1="50.60" y1="1071.10" x2="53.80" y2="1071.10" stroke="#262626" stroke-width="1.1"/>
<line x1="50.60" y1="1054.00" x2="53.80" y2="1054.00" stroke="#262626" stroke-width="1.1"/>
<line x1="50.60" y1="1036.90" x2="53.80" y2="1036.90" stroke="#262626" stroke-width="1.1"/>
<line x1="50.60" y1="1019.80" x2="53.80" y2="1019.80" stroke="#262626" stroke-width="1.1"/>
<line x1="50.60" y1="1002.70" x2="53.80" y2="1002.70" stroke="#262626" stroke-width="1.1"/>
<line x1="50.60" y1="985.60" x2="53.80" y2="985.60" stroke="#262626" stroke-width="1.1"/>
<line x1="50.60" y1="968.50" x2="53.80" y2="968.50" stroke="#262626" stroke-width="1.1"/>
<line x1="50.60" y1="951.40" x2="53.80" y2="951.40" stroke="#262626" stroke-width="1.1"/>
<line x1="50.60" y1="934.30" x2="53.80" y2="934.30" stroke="#262626" stroke-width="1.1"/>
<line x1="53.80" y1="1105.30" x2="319.30" y2="1105.30" stroke="#262626" stroke-width="1.5"/>
<line x1="53.80" y1="1105.30" x2="53.80" y2="1108.50" stroke="#262626" stroke-width="1.1"/>
<line x1="106.90" y1="1105.30" x2="106.90" y2="1108.50" stroke="#262626" stroke-width="1.1"/>
<line x1="160.00" y1="1105.30" x2="160.00" y2="1108.50" stroke="#262626" stroke-width="1.1"/>
<line x1="213.10" y1="1105.30" x2="213.10" y2="1108.50" stroke="#262626" stroke-width="1.1"/>
<line x1="266.20" y1="1105.30" x2="266.20" y2="1108.50" stroke="#262626" stroke-width="1.1"/>
<line x1="319.30" y1="1105.30" x2="319.30" y2="1108.50" stroke="#262626" stroke-width="1.1"/>
<text x="46.10" y="1108.38" font-size="8.6" fill="#383838" text-anchor="end">0.00</text>
<text x="46.10" y="1091.28" font-size="8.6" fill="#383838" text-anchor="end">0.05</text>
<text x="46.10" y="1074.18" font-size="8.6" fill="#383838" text-anchor="end">0.10</text>
<text x="46.10" y="1057.08" font-size="8.6" fill="#383838" text-anchor="end">0.15</text>
<text x="46.10" y="1039.98" font-size="8.6" fill="#383838" text-anchor="end">0.20</text>
<text x="46.10" y="1022.88" font-size="8.6" fill="#383838" text-anchor="end">0.25</text>
<text x="46.10" y="1005.78" font-size="8.6" fill="#383838" text-anchor="end">0.30</text>
<text x="46.10" y="988.68" font-size="8.6" fill="#383838" text-anchor="end">0.35</text>
<text x="46.10" y="971.58" font-size="8.6" fill="#383838" text-anchor="end">0.40</text>
<text x="46.10" y="954.48" font-size="8.6" fill="#383838" text-anchor="end">0.45</text>
<text x="46.10" y="937.38" font-size="8.6" fill="#383838" text-anchor="end">0.50</text>
<text x="53.80" y="1120.79" font-size="8.9" fill="#383838" text-anchor="middle">0</text>
<text x="106.90" y="1120.79" font-size="8.9" fill="#383838" text-anchor="middle">1</text>
<text x="160.00" y="1120.79" font-size="8.9" fill="#383838" text-anchor="middle">2</text>
<text x="213.10" y="1120.79" font-size="8.9" fill="#383838" text-anchor="middle">3</text>
<text x="266.20" y="1120.79" font-size="8.9" fill="#383838" text-anchor="middle">4</text>
<text x="319.30" y="1120.79" font-size="8.9" fill="#383838" text-anchor="middle">5</text>
<text x="118.60" y="1135.58" font-size="10.0" fill="#2b2b2b" textLength="137.40" lengthAdjust="spacingAndGlyphs"><tspan>Ratio interception area (Sn/S1)</tspan></text>
<text transform="translate(18.90,1070.20) rotate(-90)" x="0" y="0" font-size="10.0" fill="#2b2b2b" textLength="121.10" lengthAdjust="spacingAndGlyphs">Ratio total catches (Cn/C1)</text>
<polyline points="53.80,1105.30 54.86,1104.59 55.92,1103.89 56.99,1103.18 58.05,1102.48 59.11,1101.77 60.17,1101.06 61.23,1100.36 62.30,1099.65 63.36,1098.95 64.42,1098.24 65.48,1097.54 66.54,1096.83 67.61,1096.12 68.67,1095.42 69.73,1094.71 70.79,1094.01 71.85,1093.30 72.92,1092.59 73.98,1091.89 75.04,1091.18 76.10,1090.48 77.16,1089.77 78.23,1089.06 79.29,1088.36 80.35,1087.65 81.41,1086.95 82.47,1086.24 83.54,1085.54 84.60,1084.83 85.66,1084.12 86.72,1083.42 87.78,1082.71 88.85,1082.01 89.91,1081.30 90.97,1080.59 92.03,1079.89 93.09,1079.18 94.16,1078.48 95.22,1077.77 96.28,1077.06 97.34,1076.36 98.40,1075.65 99.47,1074.95 100.53,1074.24 101.59,1073.54 102.65,1072.83 103.71,1072.12 104.78,1071.42 105.84,1070.71 106.90,1070.01 107.96,1069.30 109.02,1068.59 110.09,1067.89 111.15,1067.18 112.21,1066.48 113.27,1065.77 114.33,1065.06 115.40,1064.36 116.46,1063.65 117.52,1062.95 118.58,1062.24 119.64,1061.53 120.71,1060.83 121.77,1060.12 122.83,1059.42 123.89,1058.71 124.95,1058.01 126.02,1057.30 127.08,1056.59 128.14,1055.89 129.20,1055.18 130.26,1054.48 131.33,1053.77 132.39,1053.06 133.45,1052.36 134.51,1051.65 135.57,1050.95 136.64,1050.24 137.70,1049.53 138.76,1048.83 139.82,1048.12 140.88,1047.42 141.95,1046.71 143.01,1046.01 144.07,1045.30 145.13,1044.59 146.19,1043.89 147.26,1043.18 148.32,1042.48 149.38,1041.77 150.44,1041.06 151.50,1040.36 152.57,1039.65 153.63,1038.95 154.69,1038.24 155.75,1037.53 156.81,1036.83 157.88,1036.12 158.94,1035.42 160.00,1034.71 161.06,1034.01 162.12,1033.30 163.19,1032.59 164.25,1031.89 165.31,1031.18 166.37,1030.48 167.43,1029.77 168.50,1029.06 169.56,1028.36 170.62,1027.65 171.68,1026.95 172.74,1026.24 173.81,1025.53 174.87,1024.83 175.93,1024.12 176.99,1023.42 178.05,1022.71 179.12,1022.01 180.18,1021.30 181.24,1020.59 182.30,1019.89 183.36,1019.18 184.43,1018.48 185.49,1017.77 186.55,1017.06 187.61,1016.36 188.67,1015.65 189.74,1014.95 190.80,1014.24 191.86,1013.53 192.92,1012.83 193.98,1012.12 195.05,1011.42 196.11,1010.71 197.17,1010.01 198.23,1009.30 199.29,1008.59 200.36,1007.89 201.42,1007.18 202.48,1006.48 203.54,1005.77 204.60,1005.06 205.67,1004.36 206.73,1003.65 207.79,1002.95 208.85,1002.24 209.91,1001.53 210.98,1000.83 212.04,1000.12 213.10,999.42 214.16,998.71 215.22,998.01 216.29,997.30 217.35,996.59 218.41,995.89 219.47,995.18 220.53,994.48 221.60,993.77 222.66,993.06 223.72,992.36 224.78,991.65 225.84,990.95 226.91,990.24 227.97,989.53 229.03,988.83 230.09,988.12 231.15,987.42 232.22,986.71 233.28,986.00 234.34,985.30 235.40,984.59 236.46,983.89 237.53,983.18 238.59,982.48 239.65,981.77 240.71,981.06 241.77,980.36 242.84,979.65 243.90,978.95 244.96,978.24 246.02,977.53 247.08,976.83 248.15,976.12 249.21,975.42 250.27,974.71 251.33,974.00 252.39,973.30 253.46,972.59 254.52,971.89 255.58,971.18 256.64,970.48 257.70,969.77 258.77,969.06 259.83,968.36 260.89,967.65 261.95,966.95 263.01,966.24 264.08,965.53 265.14,964.83 266.20,964.12" fill="none" stroke="#1a1a1a" stroke-width="1.5" stroke-dasharray="0.01 2.75" stroke-linecap="round"/>
<polyline points="53.80,1105.30 54.86,1104.60 55.92,1103.90 56.99,1103.19 58.05,1102.49 59.11,1101.79 60.17,1101.09 61.23,1100.39 62.30,1099.69 63.36,1098.98 64.42,1098.28 65.48,1097.58 66.54,1096.88 67.61,1096.18 68.67,1095.48 69.73,1094.77 70.79,1094.07 71.85,1093.37 72.92,1092.67 73.98,1091.97 75.04,1091.26 76.10,1090.56 77.16,1089.86 78.23,1089.16 79.29,1088.46 80.35,1087.76 81.41,1087.05 82.47,1086.35 83.54,1085.65 84.60,1084.95 85.66,1084.25 86.72,1083.54 87.78,1082.84 88.85,1082.14 89.91,1081.44 90.97,1080.74 92.03,1080.04 93.09,1079.33 94.16,1078.63 95.22,1077.93 96.28,1077.23 97.34,1076.53 98.40,1075.83 99.47,1075.12 100.53,1074.42 101.59,1073.72 102.65,1073.02 103.71,1072.32 104.78,1071.61 105.84,1070.91 106.90,1070.21 107.96,1069.51 109.02,1068.81 110.09,1068.11 111.15,1067.40 112.21,1066.70 113.27,1066.00 114.33,1065.30 115.40,1064.60 116.46,1063.89 117.52,1063.19 118.58,1062.49 119.64,1061.79 120.71,1061.09 121.77,1060.39 122.83,1059.68 123.89,1058.98 124.95,1058.28 126.02,1057.58 127.08,1056.88 128.14,1056.18 129.20,1055.47 130.26,1054.77 131.33,1054.07 132.39,1053.37 133.45,1052.67 134.51,1051.96 135.57,1051.26 136.64,1050.56 137.70,1049.86 138.76,1049.16 139.82,1048.46 140.88,1047.75 141.95,1047.05 143.01,1046.35 144.07,1045.65 145.13,1044.95 146.19,1044.24 147.26,1043.54 148.32,1042.84 149.38,1042.14 150.44,1041.44 151.50,1040.74 152.57,1040.03 153.63,1039.33 154.69,1038.63 155.75,1037.93 156.81,1037.23 157.88,1036.53 158.94,1035.82 160.00,1035.12 161.06,1034.42 162.12,1033.72 163.19,1033.02 164.25,1032.31 165.31,1031.61 166.37,1030.91 167.43,1030.21 168.50,1029.51 169.56,1028.81 170.62,1028.10 171.68,1027.40 172.74,1026.70 173.81,1026.00 174.87,1025.30 175.93,1024.59 176.99,1023.89 178.05,1023.19 179.12,1022.49 180.18,1021.79 181.24,1021.09 182.30,1020.38 183.36,1019.68 184.43,1018.98 185.49,1018.28 186.55,1017.58 187.61,1016.88 188.67,1016.17 189.74,1015.47 190.80,1014.77 191.86,1014.07 192.92,1013.37 193.98,1012.66 195.05,1011.96 196.11,1011.26 197.17,1010.56 198.23,1009.86 199.29,1009.16 200.36,1008.45 201.42,1007.75 202.48,1007.05 203.54,1006.35 204.60,1005.65 205.67,1004.94 206.73,1004.24 207.79,1003.54 208.85,1002.84 209.91,1002.14 210.98,1001.44 212.04,1000.73 213.10,1000.03 214.16,999.33 215.22,998.63 216.29,997.93 217.35,997.23 218.41,996.52 219.47,995.82 220.53,995.12 221.60,994.42 222.66,993.72 223.72,993.01 224.78,992.31 225.84,991.61 226.91,990.91 227.97,990.21 229.03,989.51 230.09,988.80 231.15,988.10 232.22,987.40 233.28,986.70 234.34,986.00 235.40,985.29 236.46,984.59 237.53,983.89 238.59,983.19 239.65,982.49 240.71,981.79 241.77,981.08 242.84,980.38 243.90,979.68 244.96,978.98 246.02,978.28 247.08,977.58 248.15,976.87 249.21,976.17 250.27,975.47 251.33,974.77 252.39,974.07 253.46,973.36 254.52,972.66 255.58,971.96 256.64,971.26 257.70,970.56 258.77,969.86 259.83,969.15 260.89,968.45 261.95,967.75 263.01,967.05 264.08,966.35 265.14,965.64 266.20,964.94" fill="none" stroke="#c00000" stroke-width="1.3" stroke-dasharray="0.01 2.75" stroke-linecap="round"/>
<circle cx="64.40" cy="980.80" r="3.0" fill="none" stroke="#c00000" stroke-width="1.6"/>
<text x="69.70" y="983.66" font-size="8.0" fill="#c00000" textLength="30.50" lengthAdjust="spacingAndGlyphs"><tspan font-style="italic">Females</tspan></text>
<rect x="61.55" y="988.55" width="5.70" height="5.70" fill="none" stroke="#000" stroke-width="1.6"/>
<text x="69.70" y="994.26" font-size="8.0" fill="#262626" textLength="22.00" lengthAdjust="spacingAndGlyphs"><tspan font-style="italic">Males</tspan></text>
<rect x="236.00" y="1029.00" width="49.00" height="52.00" fill="#fff" stroke="none" stroke-width="1"/>
<text x="239.00" y="1039.59" font-size="7.8" fill="#d03030" textLength="42.70" lengthAdjust="spacingAndGlyphs"><tspan>y = 0.1026x</tspan></text>
<text x="239.00" y="1050.39" font-size="7.8" fill="#d03030" textLength="42.70" lengthAdjust="spacingAndGlyphs"><tspan>R</tspan><tspan font-size="4.84" dy="-2.96">2</tspan><tspan dy="2.96"> = 0.9839</tspan></text>
<text x="239.00" y="1066.49" font-size="7.8" fill="#284a8a" textLength="42.70" lengthAdjust="spacingAndGlyphs"><tspan>y = 0.1032x</tspan></text>
<text x="239.00" y="1077.29" font-size="7.8" fill="#284a8a" textLength="42.70" lengthAdjust="spacingAndGlyphs"><tspan>R</tspan><tspan font-size="4.84" dy="-2.96">2</tspan><tspan dy="2.96"> = 0.9916</tspan></text>
<circle cx="106.90" cy="1079.65" r="3.0" fill="none" stroke="#c00000" stroke-width="1.6"/>
<circle cx="160.00" cy="1046.48" r="3.0" fill="none" stroke="#c00000" stroke-width="1.6"/>
<circle cx="213.10" cy="981.50" r="3.0" fill="none" stroke="#c00000" stroke-width="1.6"/>
<circle cx="266.20" cy="970.21" r="3.0" fill="none" stroke="#c00000" stroke-width="1.6"/>
<rect x="104.05" y="1074.41" width="5.70" height="5.70" fill="none" stroke="#000" stroke-width="1.6"/>
<rect x="157.15" y="1037.47" width="5.70" height="5.70" fill="none" stroke="#000" stroke-width="1.6"/>
<rect x="210.25" y="1005.66" width="5.70" height="5.70" fill="none" stroke="#000" stroke-width="1.6"/>
<rect x="263.35" y="949.23" width="5.70" height="5.70" fill="none" stroke="#000" stroke-width="1.6"/>
</svg>
</body></html>
